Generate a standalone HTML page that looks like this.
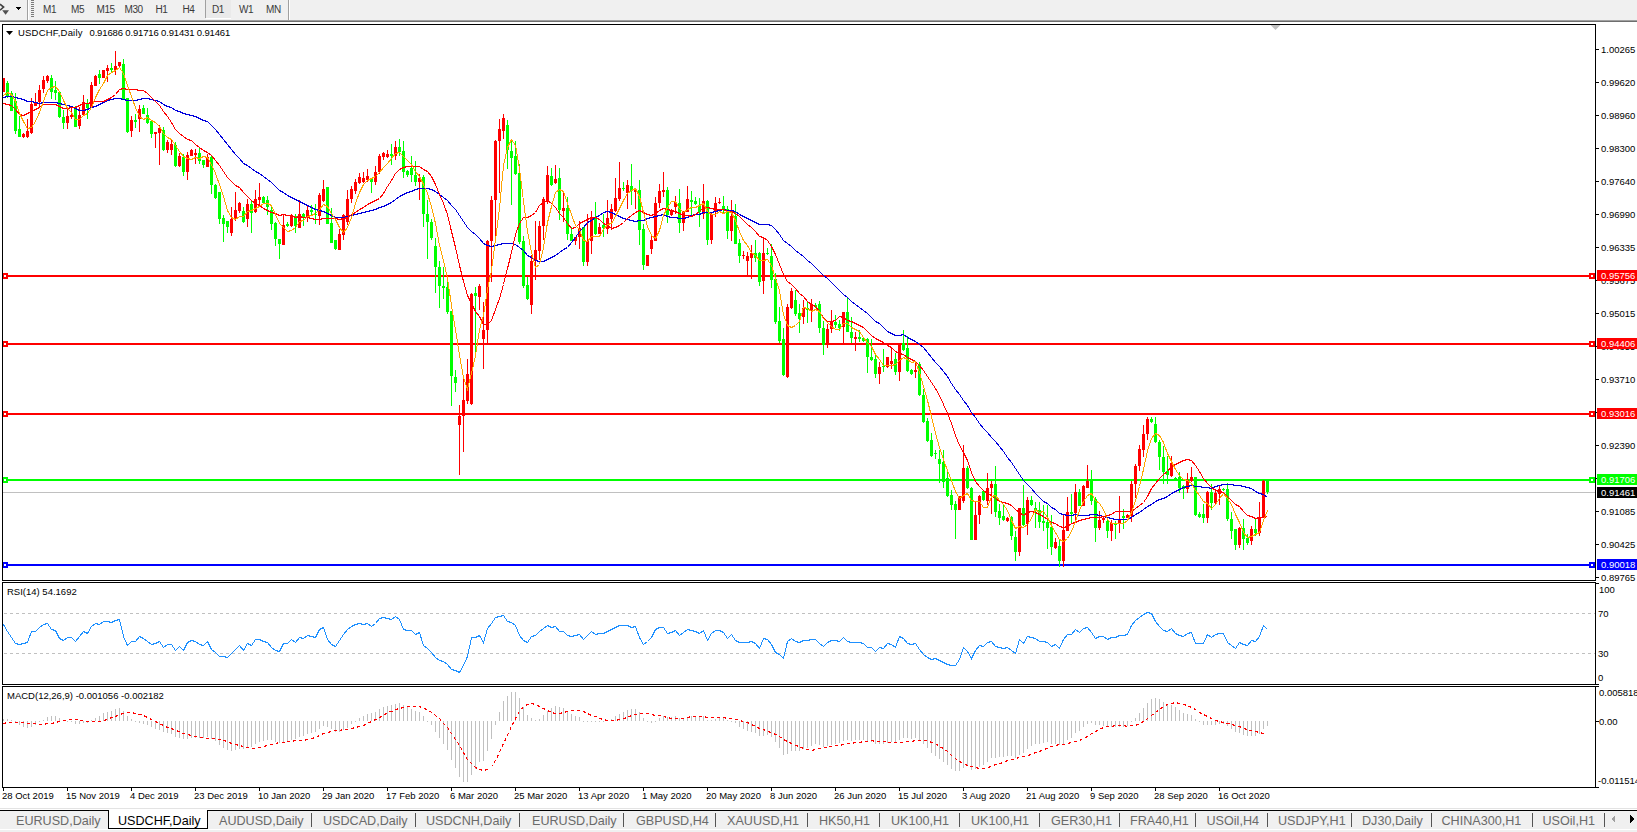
<!DOCTYPE html>
<html><head><meta charset="utf-8"><style>
html,body{margin:0;padding:0;}
body{width:1637px;height:832px;position:relative;overflow:hidden;background:#fff;font-family:"Liberation Sans",sans-serif;}
.t{position:absolute;white-space:nowrap;line-height:11px;}
.lb{position:absolute;left:1597px;width:36px;height:11px;padding-left:4px;font-size:9.5px;line-height:11px;white-space:nowrap;}
.tt{position:absolute;top:3.5px;font-size:10px;line-height:11px;color:#3a3a3a;letter-spacing:-0.4px;white-space:nowrap;}
.tab{position:absolute;top:813.5px;font-size:12.6px;line-height:14px;white-space:nowrap;}
#tb{position:absolute;left:0;top:0;width:1637px;height:20px;background:#f0f0f0;border-bottom:1px solid #a0a0a0;}
#tb2{position:absolute;left:0;top:21px;width:1637px;height:1px;background:#6e6e6e;}
#tabs{position:absolute;left:0;top:808px;width:1637px;height:24px;background:#f0f0f0;}
</style></head><body>
<div id="tb"></div><div id="tb2"></div>
<svg width="300" height="22" style="position:absolute;left:0;top:0" shape-rendering="crispEdges"><path d="M0,4.2 L3.6,7 L0,10.2" fill="none" stroke="#404040" stroke-width="1.6" shape-rendering="auto"/><path d="M2.2,10.2 L9,10.2 L5.6,14.8 Z" fill="#505050" shape-rendering="auto"/><path d="M16,7 L21,7 L18.5,10 Z" fill="#000"/><rect x="27" y="0" width="1" height="20" fill="#a0a0a0"/><rect x="28" y="0" width="1" height="20" fill="#fff"/><rect x="31" y="0" width="3" height="1" fill="#7a7a7a"/><rect x="31" y="2" width="3" height="1" fill="#7a7a7a"/><rect x="31" y="4" width="3" height="1" fill="#7a7a7a"/><rect x="31" y="6" width="3" height="1" fill="#7a7a7a"/><rect x="31" y="8" width="3" height="1" fill="#7a7a7a"/><rect x="31" y="10" width="3" height="1" fill="#7a7a7a"/><rect x="31" y="12" width="3" height="1" fill="#7a7a7a"/><rect x="31" y="14" width="3" height="1" fill="#7a7a7a"/><rect x="31" y="16" width="3" height="1" fill="#7a7a7a"/><rect x="205" y="0" width="1" height="18" fill="#a0a0a0"/><rect x="206" y="0" width="25" height="18" fill="#eaeaea"/><rect x="206" y="18" width="25" height="1" fill="#fff"/><rect x="288" y="0" width="1" height="20" fill="#a0a0a0"/><rect x="289" y="0" width="1" height="20" fill="#fff"/></svg><div class="tt" style="left:43px">M1</div><div class="tt" style="left:71px">M5</div><div class="tt" style="left:96.5px">M15</div><div class="tt" style="left:124.5px">M30</div><div class="tt" style="left:155.5px">H1</div><div class="tt" style="left:182.5px">H4</div><div class="tt" style="left:212px">D1</div><div class="tt" style="left:239px">W1</div><div class="tt" style="left:266px">MN</div>
<svg width="1637" height="832" viewBox="0 0 1637 832" style="position:absolute;left:0;top:0"><defs><clipPath id="cm"><rect x="3" y="25" width="1592" height="555"/></clipPath><clipPath id="cr"><rect x="3" y="583" width="1592" height="101"/></clipPath><clipPath id="cmacd"><rect x="3" y="687" width="1592" height="100"/></clipPath></defs><g shape-rendering="crispEdges"><rect x="3" y="492" width="1592" height="1" fill="#c0c0c0"/><rect x="3" y="275" width="1592" height="2" fill="#ff0000"/><rect x="3" y="343" width="1592" height="2" fill="#ff0000"/><rect x="3" y="413" width="1592" height="2" fill="#ff0000"/><rect x="3" y="479" width="1592" height="2" fill="#00ff00"/><rect x="3" y="564" width="1592" height="2" fill="#0000ff"/></g><g clip-path="url(#cm)" shape-rendering="crispEdges"><rect x="3" y="78" width="1" height="14" fill="#ff0000"/><rect x="2" y="78" width="3" height="14" fill="#ff0000"/><rect x="7" y="81" width="1" height="17" fill="#00ff00"/><rect x="6" y="83" width="3" height="13" fill="#00ff00"/><rect x="11" y="91" width="1" height="20" fill="#00ff00"/><rect x="10" y="93" width="3" height="18" fill="#00ff00"/><rect x="15" y="93" width="1" height="41" fill="#00ff00"/><rect x="14" y="101" width="3" height="30" fill="#00ff00"/><rect x="19" y="116" width="1" height="21" fill="#00ff00"/><rect x="18" y="129" width="3" height="8" fill="#00ff00"/><rect x="23" y="133" width="1" height="5" fill="#ff0000"/><rect x="22" y="134" width="3" height="3" fill="#ff0000"/><rect x="27" y="119" width="1" height="19" fill="#ff0000"/><rect x="26" y="131" width="3" height="6" fill="#ff0000"/><rect x="31" y="98" width="1" height="36" fill="#ff0000"/><rect x="30" y="104" width="3" height="29" fill="#ff0000"/><rect x="35" y="93" width="1" height="13" fill="#ff0000"/><rect x="34" y="102" width="3" height="4" fill="#ff0000"/><rect x="39" y="85" width="1" height="23" fill="#ff0000"/><rect x="38" y="90" width="3" height="12" fill="#ff0000"/><rect x="43" y="76" width="1" height="17" fill="#ff0000"/><rect x="42" y="80" width="3" height="9" fill="#ff0000"/><rect x="47" y="75" width="1" height="8" fill="#ff0000"/><rect x="46" y="76" width="3" height="5" fill="#ff0000"/><rect x="51" y="75" width="1" height="24" fill="#00ff00"/><rect x="50" y="78" width="3" height="14" fill="#00ff00"/><rect x="55" y="81" width="1" height="19" fill="#00ff00"/><rect x="54" y="90" width="3" height="3" fill="#00ff00"/><rect x="59" y="92" width="1" height="26" fill="#00ff00"/><rect x="58" y="92" width="3" height="25" fill="#00ff00"/><rect x="63" y="110" width="1" height="19" fill="#00ff00"/><rect x="62" y="117" width="3" height="6" fill="#00ff00"/><rect x="67" y="109" width="1" height="20" fill="#ff0000"/><rect x="66" y="116" width="3" height="7" fill="#ff0000"/><rect x="71" y="108" width="1" height="11" fill="#ff0000"/><rect x="70" y="115" width="3" height="2" fill="#ff0000"/><rect x="75" y="106" width="1" height="21" fill="#00ff00"/><rect x="74" y="109" width="3" height="18" fill="#00ff00"/><rect x="79" y="107" width="1" height="22" fill="#ff0000"/><rect x="78" y="115" width="3" height="11" fill="#ff0000"/><rect x="83" y="95" width="1" height="21" fill="#ff0000"/><rect x="82" y="102" width="3" height="13" fill="#ff0000"/><rect x="87" y="99" width="1" height="20" fill="#00ff00"/><rect x="86" y="103" width="3" height="5" fill="#00ff00"/><rect x="91" y="82" width="1" height="26" fill="#ff0000"/><rect x="90" y="85" width="3" height="23" fill="#ff0000"/><rect x="95" y="75" width="1" height="11" fill="#ff0000"/><rect x="94" y="76" width="3" height="10" fill="#ff0000"/><rect x="99" y="70" width="1" height="14" fill="#00ff00"/><rect x="98" y="74" width="3" height="4" fill="#00ff00"/><rect x="103" y="70" width="1" height="8" fill="#ff0000"/><rect x="102" y="70" width="3" height="8" fill="#ff0000"/><rect x="107" y="65" width="1" height="17" fill="#ff0000"/><rect x="106" y="68" width="3" height="3" fill="#ff0000"/><rect x="111" y="63" width="1" height="10" fill="#00ff00"/><rect x="110" y="68" width="3" height="2" fill="#00ff00"/><rect x="115" y="51" width="1" height="24" fill="#ff0000"/><rect x="114" y="66" width="3" height="4" fill="#ff0000"/><rect x="119" y="62" width="1" height="5" fill="#ff0000"/><rect x="118" y="62" width="3" height="4" fill="#ff0000"/><rect x="123" y="59" width="1" height="41" fill="#00ff00"/><rect x="122" y="64" width="3" height="36" fill="#00ff00"/><rect x="127" y="98" width="1" height="35" fill="#00ff00"/><rect x="126" y="98" width="3" height="34" fill="#00ff00"/><rect x="131" y="116" width="1" height="21" fill="#ff0000"/><rect x="130" y="120" width="3" height="11" fill="#ff0000"/><rect x="135" y="114" width="1" height="14" fill="#00ff00"/><rect x="134" y="120" width="3" height="2" fill="#00ff00"/><rect x="139" y="105" width="1" height="27" fill="#ff0000"/><rect x="138" y="109" width="3" height="10" fill="#ff0000"/><rect x="143" y="105" width="1" height="9" fill="#00ff00"/><rect x="142" y="108" width="3" height="6" fill="#00ff00"/><rect x="147" y="108" width="1" height="16" fill="#00ff00"/><rect x="146" y="115" width="3" height="8" fill="#00ff00"/><rect x="151" y="120" width="1" height="18" fill="#00ff00"/><rect x="150" y="121" width="3" height="13" fill="#00ff00"/><rect x="155" y="132" width="1" height="16" fill="#ff0000"/><rect x="154" y="132" width="3" height="2" fill="#ff0000"/><rect x="159" y="125" width="1" height="40" fill="#ff0000"/><rect x="158" y="128" width="3" height="5" fill="#ff0000"/><rect x="163" y="127" width="1" height="24" fill="#00ff00"/><rect x="162" y="130" width="3" height="20" fill="#00ff00"/><rect x="167" y="140" width="1" height="13" fill="#ff0000"/><rect x="166" y="142" width="3" height="8" fill="#ff0000"/><rect x="171" y="140" width="1" height="15" fill="#ff0000"/><rect x="170" y="144" width="3" height="6" fill="#ff0000"/><rect x="175" y="142" width="1" height="25" fill="#00ff00"/><rect x="174" y="145" width="3" height="21" fill="#00ff00"/><rect x="179" y="153" width="1" height="14" fill="#ff0000"/><rect x="178" y="156" width="3" height="10" fill="#ff0000"/><rect x="183" y="154" width="1" height="22" fill="#00ff00"/><rect x="182" y="157" width="3" height="15" fill="#00ff00"/><rect x="187" y="152" width="1" height="28" fill="#ff0000"/><rect x="186" y="155" width="3" height="17" fill="#ff0000"/><rect x="191" y="149" width="1" height="7" fill="#ff0000"/><rect x="190" y="150" width="3" height="6" fill="#ff0000"/><rect x="195" y="149" width="1" height="15" fill="#ff0000"/><rect x="194" y="153" width="3" height="2" fill="#ff0000"/><rect x="199" y="148" width="1" height="16" fill="#00ff00"/><rect x="198" y="153" width="3" height="8" fill="#00ff00"/><rect x="203" y="160" width="1" height="8" fill="#00ff00"/><rect x="202" y="160" width="3" height="5" fill="#00ff00"/><rect x="207" y="154" width="1" height="13" fill="#ff0000"/><rect x="206" y="157" width="3" height="10" fill="#ff0000"/><rect x="211" y="155" width="1" height="39" fill="#00ff00"/><rect x="210" y="157" width="3" height="28" fill="#00ff00"/><rect x="215" y="184" width="1" height="15" fill="#00ff00"/><rect x="214" y="185" width="3" height="13" fill="#00ff00"/><rect x="219" y="192" width="1" height="32" fill="#00ff00"/><rect x="218" y="192" width="3" height="27" fill="#00ff00"/><rect x="223" y="215" width="1" height="27" fill="#00ff00"/><rect x="222" y="218" width="3" height="6" fill="#00ff00"/><rect x="227" y="221" width="1" height="12" fill="#00ff00"/><rect x="226" y="221" width="3" height="6" fill="#00ff00"/><rect x="231" y="207" width="1" height="29" fill="#ff0000"/><rect x="230" y="219" width="3" height="14" fill="#ff0000"/><rect x="235" y="192" width="1" height="29" fill="#ff0000"/><rect x="234" y="210" width="3" height="8" fill="#ff0000"/><rect x="239" y="202" width="1" height="11" fill="#ff0000"/><rect x="238" y="203" width="3" height="8" fill="#ff0000"/><rect x="243" y="207" width="1" height="16" fill="#00ff00"/><rect x="242" y="211" width="3" height="11" fill="#00ff00"/><rect x="247" y="199" width="1" height="28" fill="#ff0000"/><rect x="246" y="204" width="3" height="15" fill="#ff0000"/><rect x="251" y="201" width="1" height="32" fill="#00ff00"/><rect x="250" y="204" width="3" height="9" fill="#00ff00"/><rect x="255" y="190" width="1" height="23" fill="#ff0000"/><rect x="254" y="199" width="3" height="13" fill="#ff0000"/><rect x="259" y="183" width="1" height="22" fill="#ff0000"/><rect x="258" y="197" width="3" height="3" fill="#ff0000"/><rect x="263" y="196" width="1" height="7" fill="#00ff00"/><rect x="262" y="197" width="3" height="6" fill="#00ff00"/><rect x="267" y="196" width="1" height="19" fill="#00ff00"/><rect x="266" y="200" width="3" height="7" fill="#00ff00"/><rect x="271" y="207" width="1" height="23" fill="#00ff00"/><rect x="270" y="210" width="3" height="14" fill="#00ff00"/><rect x="275" y="222" width="1" height="24" fill="#00ff00"/><rect x="274" y="223" width="3" height="16" fill="#00ff00"/><rect x="279" y="239" width="1" height="20" fill="#00ff00"/><rect x="278" y="239" width="3" height="5" fill="#00ff00"/><rect x="283" y="215" width="1" height="30" fill="#ff0000"/><rect x="282" y="225" width="3" height="20" fill="#ff0000"/><rect x="287" y="222" width="1" height="5" fill="#00ff00"/><rect x="286" y="224" width="3" height="2" fill="#00ff00"/><rect x="291" y="214" width="1" height="13" fill="#ff0000"/><rect x="290" y="216" width="3" height="10" fill="#ff0000"/><rect x="295" y="214" width="1" height="19" fill="#00ff00"/><rect x="294" y="216" width="3" height="10" fill="#00ff00"/><rect x="299" y="200" width="1" height="28" fill="#ff0000"/><rect x="298" y="214" width="3" height="14" fill="#ff0000"/><rect x="303" y="213" width="1" height="13" fill="#00ff00"/><rect x="302" y="214" width="3" height="4" fill="#00ff00"/><rect x="307" y="206" width="1" height="16" fill="#ff0000"/><rect x="306" y="210" width="3" height="8" fill="#ff0000"/><rect x="311" y="205" width="1" height="10" fill="#00ff00"/><rect x="310" y="210" width="3" height="2" fill="#00ff00"/><rect x="315" y="204" width="1" height="20" fill="#00ff00"/><rect x="314" y="214" width="3" height="1" fill="#00ff00"/><rect x="319" y="193" width="1" height="32" fill="#ff0000"/><rect x="318" y="195" width="3" height="21" fill="#ff0000"/><rect x="323" y="180" width="1" height="22" fill="#ff0000"/><rect x="322" y="189" width="3" height="12" fill="#ff0000"/><rect x="327" y="187" width="1" height="37" fill="#00ff00"/><rect x="326" y="187" width="3" height="37" fill="#00ff00"/><rect x="331" y="208" width="1" height="35" fill="#00ff00"/><rect x="330" y="223" width="3" height="20" fill="#00ff00"/><rect x="335" y="240" width="1" height="10" fill="#00ff00"/><rect x="334" y="240" width="3" height="9" fill="#00ff00"/><rect x="339" y="229" width="1" height="21" fill="#ff0000"/><rect x="338" y="234" width="3" height="16" fill="#ff0000"/><rect x="343" y="214" width="1" height="26" fill="#ff0000"/><rect x="342" y="215" width="3" height="20" fill="#ff0000"/><rect x="347" y="190" width="1" height="35" fill="#ff0000"/><rect x="346" y="199" width="3" height="23" fill="#ff0000"/><rect x="351" y="186" width="1" height="17" fill="#ff0000"/><rect x="350" y="189" width="3" height="10" fill="#ff0000"/><rect x="355" y="179" width="1" height="15" fill="#ff0000"/><rect x="354" y="182" width="3" height="9" fill="#ff0000"/><rect x="359" y="173" width="1" height="11" fill="#ff0000"/><rect x="358" y="177" width="3" height="6" fill="#ff0000"/><rect x="363" y="172" width="1" height="11" fill="#ff0000"/><rect x="362" y="178" width="3" height="4" fill="#ff0000"/><rect x="367" y="169" width="1" height="13" fill="#ff0000"/><rect x="366" y="176" width="3" height="4" fill="#ff0000"/><rect x="371" y="178" width="1" height="15" fill="#00ff00"/><rect x="370" y="178" width="3" height="4" fill="#00ff00"/><rect x="375" y="166" width="1" height="19" fill="#ff0000"/><rect x="374" y="172" width="3" height="10" fill="#ff0000"/><rect x="379" y="154" width="1" height="20" fill="#ff0000"/><rect x="378" y="156" width="3" height="16" fill="#ff0000"/><rect x="383" y="152" width="1" height="8" fill="#ff0000"/><rect x="382" y="153" width="3" height="4" fill="#ff0000"/><rect x="387" y="150" width="1" height="8" fill="#ff0000"/><rect x="386" y="154" width="3" height="3" fill="#ff0000"/><rect x="391" y="144" width="1" height="21" fill="#00ff00"/><rect x="390" y="154" width="3" height="2" fill="#00ff00"/><rect x="395" y="141" width="1" height="19" fill="#ff0000"/><rect x="394" y="147" width="3" height="9" fill="#ff0000"/><rect x="399" y="139" width="1" height="17" fill="#00ff00"/><rect x="398" y="147" width="3" height="5" fill="#00ff00"/><rect x="403" y="141" width="1" height="37" fill="#00ff00"/><rect x="402" y="151" width="3" height="21" fill="#00ff00"/><rect x="407" y="170" width="1" height="7" fill="#00ff00"/><rect x="406" y="171" width="3" height="4" fill="#00ff00"/><rect x="411" y="156" width="1" height="26" fill="#00ff00"/><rect x="410" y="168" width="3" height="7" fill="#00ff00"/><rect x="415" y="161" width="1" height="25" fill="#00ff00"/><rect x="414" y="175" width="3" height="7" fill="#00ff00"/><rect x="419" y="174" width="1" height="26" fill="#ff0000"/><rect x="418" y="178" width="3" height="4" fill="#ff0000"/><rect x="423" y="175" width="1" height="52" fill="#00ff00"/><rect x="422" y="177" width="3" height="37" fill="#00ff00"/><rect x="427" y="200" width="1" height="59" fill="#00ff00"/><rect x="426" y="214" width="3" height="8" fill="#00ff00"/><rect x="431" y="219" width="1" height="21" fill="#00ff00"/><rect x="430" y="222" width="3" height="16" fill="#00ff00"/><rect x="435" y="238" width="1" height="55" fill="#00ff00"/><rect x="434" y="246" width="3" height="21" fill="#00ff00"/><rect x="439" y="261" width="1" height="47" fill="#00ff00"/><rect x="438" y="267" width="3" height="19" fill="#00ff00"/><rect x="443" y="267" width="1" height="32" fill="#00ff00"/><rect x="442" y="286" width="3" height="2" fill="#00ff00"/><rect x="447" y="280" width="1" height="34" fill="#00ff00"/><rect x="446" y="287" width="3" height="25" fill="#00ff00"/><rect x="451" y="311" width="1" height="95" fill="#00ff00"/><rect x="450" y="311" width="3" height="65" fill="#00ff00"/><rect x="455" y="370" width="1" height="22" fill="#00ff00"/><rect x="454" y="377" width="3" height="6" fill="#00ff00"/><rect x="459" y="405" width="1" height="70" fill="#ff0000"/><rect x="458" y="416" width="3" height="9" fill="#ff0000"/><rect x="463" y="379" width="1" height="73" fill="#ff0000"/><rect x="462" y="400" width="3" height="16" fill="#ff0000"/><rect x="467" y="359" width="1" height="45" fill="#ff0000"/><rect x="466" y="374" width="3" height="27" fill="#ff0000"/><rect x="471" y="293" width="1" height="112" fill="#ff0000"/><rect x="470" y="294" width="3" height="110" fill="#ff0000"/><rect x="475" y="287" width="1" height="66" fill="#00ff00"/><rect x="474" y="293" width="3" height="3" fill="#00ff00"/><rect x="479" y="284" width="1" height="26" fill="#ff0000"/><rect x="478" y="286" width="3" height="11" fill="#ff0000"/><rect x="483" y="302" width="1" height="67" fill="#ff0000"/><rect x="482" y="330" width="3" height="9" fill="#ff0000"/><rect x="487" y="240" width="1" height="103" fill="#ff0000"/><rect x="486" y="241" width="3" height="89" fill="#ff0000"/><rect x="491" y="196" width="1" height="86" fill="#ff0000"/><rect x="490" y="200" width="3" height="41" fill="#ff0000"/><rect x="495" y="140" width="1" height="96" fill="#ff0000"/><rect x="494" y="141" width="3" height="59" fill="#ff0000"/><rect x="499" y="119" width="1" height="74" fill="#ff0000"/><rect x="498" y="129" width="3" height="12" fill="#ff0000"/><rect x="503" y="114" width="1" height="25" fill="#ff0000"/><rect x="502" y="118" width="3" height="13" fill="#ff0000"/><rect x="507" y="120" width="1" height="49" fill="#00ff00"/><rect x="506" y="125" width="3" height="25" fill="#00ff00"/><rect x="511" y="139" width="1" height="66" fill="#00ff00"/><rect x="510" y="151" width="3" height="7" fill="#00ff00"/><rect x="515" y="141" width="1" height="34" fill="#00ff00"/><rect x="514" y="156" width="3" height="18" fill="#00ff00"/><rect x="519" y="164" width="1" height="80" fill="#00ff00"/><rect x="518" y="173" width="3" height="69" fill="#00ff00"/><rect x="523" y="236" width="1" height="52" fill="#00ff00"/><rect x="522" y="241" width="3" height="45" fill="#00ff00"/><rect x="527" y="277" width="1" height="23" fill="#00ff00"/><rect x="526" y="285" width="3" height="14" fill="#00ff00"/><rect x="531" y="255" width="1" height="59" fill="#ff0000"/><rect x="530" y="261" width="3" height="44" fill="#ff0000"/><rect x="535" y="221" width="1" height="59" fill="#ff0000"/><rect x="534" y="250" width="3" height="11" fill="#ff0000"/><rect x="539" y="221" width="1" height="39" fill="#ff0000"/><rect x="538" y="226" width="3" height="25" fill="#ff0000"/><rect x="543" y="197" width="1" height="43" fill="#ff0000"/><rect x="542" y="199" width="3" height="27" fill="#ff0000"/><rect x="547" y="166" width="1" height="38" fill="#ff0000"/><rect x="546" y="175" width="3" height="26" fill="#ff0000"/><rect x="551" y="168" width="1" height="18" fill="#00ff00"/><rect x="550" y="176" width="3" height="9" fill="#00ff00"/><rect x="555" y="165" width="1" height="19" fill="#ff0000"/><rect x="554" y="179" width="3" height="4" fill="#ff0000"/><rect x="559" y="168" width="1" height="52" fill="#00ff00"/><rect x="558" y="178" width="3" height="32" fill="#00ff00"/><rect x="563" y="193" width="1" height="29" fill="#ff0000"/><rect x="562" y="208" width="3" height="3" fill="#ff0000"/><rect x="567" y="197" width="1" height="43" fill="#00ff00"/><rect x="566" y="208" width="3" height="26" fill="#00ff00"/><rect x="571" y="227" width="1" height="14" fill="#00ff00"/><rect x="570" y="234" width="3" height="7" fill="#00ff00"/><rect x="575" y="237" width="1" height="8" fill="#ff0000"/><rect x="574" y="237" width="3" height="4" fill="#ff0000"/><rect x="579" y="221" width="1" height="28" fill="#ff0000"/><rect x="578" y="228" width="3" height="9" fill="#ff0000"/><rect x="583" y="227" width="1" height="39" fill="#00ff00"/><rect x="582" y="227" width="3" height="35" fill="#00ff00"/><rect x="587" y="214" width="1" height="52" fill="#ff0000"/><rect x="586" y="241" width="3" height="21" fill="#ff0000"/><rect x="591" y="211" width="1" height="43" fill="#ff0000"/><rect x="590" y="217" width="3" height="24" fill="#ff0000"/><rect x="595" y="202" width="1" height="33" fill="#00ff00"/><rect x="594" y="219" width="3" height="15" fill="#00ff00"/><rect x="599" y="223" width="1" height="11" fill="#ff0000"/><rect x="598" y="227" width="3" height="7" fill="#ff0000"/><rect x="603" y="214" width="1" height="23" fill="#00ff00"/><rect x="602" y="225" width="3" height="3" fill="#00ff00"/><rect x="607" y="200" width="1" height="34" fill="#ff0000"/><rect x="606" y="218" width="3" height="11" fill="#ff0000"/><rect x="611" y="204" width="1" height="26" fill="#ff0000"/><rect x="610" y="209" width="3" height="10" fill="#ff0000"/><rect x="615" y="178" width="1" height="34" fill="#ff0000"/><rect x="614" y="198" width="3" height="13" fill="#ff0000"/><rect x="619" y="162" width="1" height="39" fill="#ff0000"/><rect x="618" y="188" width="3" height="11" fill="#ff0000"/><rect x="623" y="182" width="1" height="9" fill="#00ff00"/><rect x="622" y="188" width="3" height="1" fill="#00ff00"/><rect x="627" y="180" width="1" height="29" fill="#ff0000"/><rect x="626" y="185" width="3" height="8" fill="#ff0000"/><rect x="631" y="164" width="1" height="41" fill="#00ff00"/><rect x="630" y="186" width="3" height="5" fill="#00ff00"/><rect x="635" y="188" width="1" height="21" fill="#ff0000"/><rect x="634" y="190" width="3" height="2" fill="#ff0000"/><rect x="639" y="180" width="1" height="65" fill="#00ff00"/><rect x="638" y="190" width="3" height="40" fill="#00ff00"/><rect x="643" y="224" width="1" height="46" fill="#00ff00"/><rect x="642" y="229" width="3" height="36" fill="#00ff00"/><rect x="647" y="255" width="1" height="11" fill="#ff0000"/><rect x="646" y="255" width="3" height="11" fill="#ff0000"/><rect x="651" y="236" width="1" height="18" fill="#ff0000"/><rect x="650" y="240" width="3" height="9" fill="#ff0000"/><rect x="655" y="197" width="1" height="44" fill="#ff0000"/><rect x="654" y="203" width="3" height="38" fill="#ff0000"/><rect x="659" y="184" width="1" height="24" fill="#ff0000"/><rect x="658" y="191" width="3" height="12" fill="#ff0000"/><rect x="663" y="172" width="1" height="25" fill="#ff0000"/><rect x="662" y="190" width="3" height="2" fill="#ff0000"/><rect x="667" y="187" width="1" height="36" fill="#00ff00"/><rect x="666" y="190" width="3" height="25" fill="#00ff00"/><rect x="671" y="209" width="1" height="7" fill="#ff0000"/><rect x="670" y="210" width="3" height="5" fill="#ff0000"/><rect x="675" y="196" width="1" height="18" fill="#ff0000"/><rect x="674" y="202" width="3" height="5" fill="#ff0000"/><rect x="679" y="189" width="1" height="44" fill="#00ff00"/><rect x="678" y="203" width="3" height="20" fill="#00ff00"/><rect x="683" y="211" width="1" height="20" fill="#ff0000"/><rect x="682" y="212" width="3" height="11" fill="#ff0000"/><rect x="687" y="186" width="1" height="26" fill="#ff0000"/><rect x="686" y="199" width="3" height="13" fill="#ff0000"/><rect x="691" y="191" width="1" height="25" fill="#00ff00"/><rect x="690" y="200" width="3" height="2" fill="#00ff00"/><rect x="695" y="197" width="1" height="8" fill="#00ff00"/><rect x="694" y="201" width="3" height="3" fill="#00ff00"/><rect x="699" y="198" width="1" height="29" fill="#00ff00"/><rect x="698" y="206" width="3" height="6" fill="#00ff00"/><rect x="703" y="184" width="1" height="35" fill="#ff0000"/><rect x="702" y="201" width="3" height="13" fill="#ff0000"/><rect x="707" y="200" width="1" height="45" fill="#00ff00"/><rect x="706" y="201" width="3" height="39" fill="#00ff00"/><rect x="711" y="212" width="1" height="32" fill="#ff0000"/><rect x="710" y="214" width="3" height="26" fill="#ff0000"/><rect x="715" y="197" width="1" height="20" fill="#ff0000"/><rect x="714" y="203" width="3" height="9" fill="#ff0000"/><rect x="719" y="198" width="1" height="6" fill="#ff0000"/><rect x="718" y="202" width="3" height="1" fill="#ff0000"/><rect x="723" y="196" width="1" height="17" fill="#00ff00"/><rect x="722" y="206" width="3" height="3" fill="#00ff00"/><rect x="727" y="206" width="1" height="33" fill="#00ff00"/><rect x="726" y="209" width="3" height="22" fill="#00ff00"/><rect x="731" y="200" width="1" height="41" fill="#ff0000"/><rect x="730" y="216" width="3" height="15" fill="#ff0000"/><rect x="735" y="204" width="1" height="40" fill="#00ff00"/><rect x="734" y="216" width="3" height="28" fill="#00ff00"/><rect x="739" y="239" width="1" height="24" fill="#00ff00"/><rect x="738" y="243" width="3" height="13" fill="#00ff00"/><rect x="743" y="251" width="1" height="8" fill="#ff0000"/><rect x="742" y="255" width="3" height="1" fill="#ff0000"/><rect x="747" y="252" width="1" height="25" fill="#ff0000"/><rect x="746" y="256" width="3" height="5" fill="#ff0000"/><rect x="751" y="245" width="1" height="34" fill="#ff0000"/><rect x="750" y="253" width="3" height="5" fill="#ff0000"/><rect x="755" y="240" width="1" height="22" fill="#00ff00"/><rect x="754" y="253" width="3" height="5" fill="#00ff00"/><rect x="759" y="252" width="1" height="34" fill="#00ff00"/><rect x="758" y="253" width="3" height="29" fill="#00ff00"/><rect x="763" y="238" width="1" height="56" fill="#ff0000"/><rect x="762" y="253" width="3" height="28" fill="#ff0000"/><rect x="767" y="248" width="1" height="7" fill="#00ff00"/><rect x="766" y="253" width="3" height="1" fill="#00ff00"/><rect x="771" y="244" width="1" height="44" fill="#00ff00"/><rect x="770" y="256" width="3" height="24" fill="#00ff00"/><rect x="775" y="273" width="1" height="51" fill="#00ff00"/><rect x="774" y="279" width="3" height="43" fill="#00ff00"/><rect x="779" y="307" width="1" height="36" fill="#00ff00"/><rect x="778" y="321" width="3" height="20" fill="#00ff00"/><rect x="783" y="328" width="1" height="48" fill="#00ff00"/><rect x="782" y="339" width="3" height="36" fill="#00ff00"/><rect x="787" y="304" width="1" height="74" fill="#ff0000"/><rect x="786" y="307" width="3" height="70" fill="#ff0000"/><rect x="791" y="288" width="1" height="21" fill="#ff0000"/><rect x="790" y="291" width="3" height="17" fill="#ff0000"/><rect x="795" y="290" width="1" height="26" fill="#00ff00"/><rect x="794" y="300" width="3" height="14" fill="#00ff00"/><rect x="799" y="304" width="1" height="29" fill="#00ff00"/><rect x="798" y="313" width="3" height="6" fill="#00ff00"/><rect x="803" y="300" width="1" height="24" fill="#ff0000"/><rect x="802" y="308" width="3" height="9" fill="#ff0000"/><rect x="807" y="302" width="1" height="21" fill="#00ff00"/><rect x="806" y="308" width="3" height="2" fill="#00ff00"/><rect x="811" y="299" width="1" height="23" fill="#ff0000"/><rect x="810" y="304" width="3" height="6" fill="#ff0000"/><rect x="815" y="303" width="1" height="5" fill="#00ff00"/><rect x="814" y="305" width="3" height="2" fill="#00ff00"/><rect x="819" y="301" width="1" height="32" fill="#00ff00"/><rect x="818" y="304" width="3" height="24" fill="#00ff00"/><rect x="823" y="321" width="1" height="34" fill="#00ff00"/><rect x="822" y="328" width="3" height="17" fill="#00ff00"/><rect x="827" y="324" width="1" height="24" fill="#ff0000"/><rect x="826" y="329" width="3" height="16" fill="#ff0000"/><rect x="831" y="310" width="1" height="23" fill="#ff0000"/><rect x="830" y="321" width="3" height="8" fill="#ff0000"/><rect x="835" y="315" width="1" height="13" fill="#00ff00"/><rect x="834" y="322" width="3" height="3" fill="#00ff00"/><rect x="839" y="320" width="1" height="11" fill="#00ff00"/><rect x="838" y="324" width="3" height="4" fill="#00ff00"/><rect x="843" y="312" width="1" height="31" fill="#ff0000"/><rect x="842" y="312" width="3" height="15" fill="#ff0000"/><rect x="847" y="298" width="1" height="34" fill="#00ff00"/><rect x="846" y="312" width="3" height="20" fill="#00ff00"/><rect x="851" y="317" width="1" height="26" fill="#00ff00"/><rect x="850" y="332" width="3" height="6" fill="#00ff00"/><rect x="855" y="332" width="1" height="19" fill="#ff0000"/><rect x="854" y="337" width="3" height="2" fill="#ff0000"/><rect x="859" y="330" width="1" height="12" fill="#00ff00"/><rect x="858" y="337" width="3" height="2" fill="#00ff00"/><rect x="863" y="337" width="1" height="5" fill="#00ff00"/><rect x="862" y="338" width="3" height="3" fill="#00ff00"/><rect x="867" y="338" width="1" height="35" fill="#00ff00"/><rect x="866" y="339" width="3" height="18" fill="#00ff00"/><rect x="871" y="339" width="1" height="22" fill="#00ff00"/><rect x="870" y="357" width="3" height="3" fill="#00ff00"/><rect x="875" y="353" width="1" height="25" fill="#00ff00"/><rect x="874" y="359" width="3" height="15" fill="#00ff00"/><rect x="879" y="362" width="1" height="22" fill="#ff0000"/><rect x="878" y="367" width="3" height="7" fill="#ff0000"/><rect x="883" y="349" width="1" height="23" fill="#00ff00"/><rect x="882" y="366" width="3" height="1" fill="#00ff00"/><rect x="887" y="357" width="1" height="11" fill="#ff0000"/><rect x="886" y="357" width="3" height="10" fill="#ff0000"/><rect x="891" y="348" width="1" height="21" fill="#ff0000"/><rect x="890" y="361" width="3" height="3" fill="#ff0000"/><rect x="895" y="353" width="1" height="22" fill="#00ff00"/><rect x="894" y="359" width="3" height="13" fill="#00ff00"/><rect x="899" y="344" width="1" height="37" fill="#ff0000"/><rect x="898" y="345" width="3" height="27" fill="#ff0000"/><rect x="903" y="330" width="1" height="21" fill="#00ff00"/><rect x="902" y="343" width="3" height="7" fill="#00ff00"/><rect x="907" y="336" width="1" height="36" fill="#00ff00"/><rect x="906" y="348" width="3" height="23" fill="#00ff00"/><rect x="911" y="369" width="1" height="6" fill="#00ff00"/><rect x="910" y="370" width="3" height="4" fill="#00ff00"/><rect x="915" y="361" width="1" height="17" fill="#ff0000"/><rect x="914" y="370" width="3" height="2" fill="#ff0000"/><rect x="919" y="362" width="1" height="34" fill="#00ff00"/><rect x="918" y="364" width="3" height="31" fill="#00ff00"/><rect x="923" y="389" width="1" height="34" fill="#00ff00"/><rect x="922" y="395" width="3" height="27" fill="#00ff00"/><rect x="927" y="418" width="1" height="24" fill="#00ff00"/><rect x="926" y="421" width="3" height="20" fill="#00ff00"/><rect x="931" y="433" width="1" height="24" fill="#00ff00"/><rect x="930" y="440" width="3" height="16" fill="#00ff00"/><rect x="935" y="450" width="1" height="9" fill="#00ff00"/><rect x="934" y="453" width="3" height="1" fill="#00ff00"/><rect x="939" y="450" width="1" height="33" fill="#00ff00"/><rect x="938" y="459" width="3" height="5" fill="#00ff00"/><rect x="943" y="450" width="1" height="38" fill="#00ff00"/><rect x="942" y="462" width="3" height="20" fill="#00ff00"/><rect x="947" y="472" width="1" height="25" fill="#00ff00"/><rect x="946" y="478" width="3" height="18" fill="#00ff00"/><rect x="951" y="490" width="1" height="20" fill="#00ff00"/><rect x="950" y="495" width="3" height="10" fill="#00ff00"/><rect x="955" y="501" width="1" height="38" fill="#00ff00"/><rect x="954" y="504" width="3" height="6" fill="#00ff00"/><rect x="959" y="496" width="1" height="14" fill="#ff0000"/><rect x="958" y="496" width="3" height="14" fill="#ff0000"/><rect x="963" y="445" width="1" height="58" fill="#ff0000"/><rect x="962" y="468" width="3" height="33" fill="#ff0000"/><rect x="967" y="466" width="1" height="23" fill="#00ff00"/><rect x="966" y="468" width="3" height="20" fill="#00ff00"/><rect x="971" y="487" width="1" height="53" fill="#00ff00"/><rect x="970" y="488" width="3" height="52" fill="#00ff00"/><rect x="975" y="502" width="1" height="38" fill="#ff0000"/><rect x="974" y="515" width="3" height="25" fill="#ff0000"/><rect x="979" y="495" width="1" height="29" fill="#ff0000"/><rect x="978" y="496" width="3" height="19" fill="#ff0000"/><rect x="983" y="490" width="1" height="11" fill="#00ff00"/><rect x="982" y="491" width="3" height="9" fill="#00ff00"/><rect x="987" y="473" width="1" height="32" fill="#ff0000"/><rect x="986" y="488" width="3" height="13" fill="#ff0000"/><rect x="991" y="481" width="1" height="33" fill="#ff0000"/><rect x="990" y="484" width="3" height="4" fill="#ff0000"/><rect x="995" y="466" width="1" height="51" fill="#00ff00"/><rect x="994" y="484" width="3" height="28" fill="#00ff00"/><rect x="999" y="504" width="1" height="21" fill="#00ff00"/><rect x="998" y="511" width="3" height="7" fill="#00ff00"/><rect x="1003" y="504" width="1" height="17" fill="#00ff00"/><rect x="1002" y="516" width="3" height="4" fill="#00ff00"/><rect x="1007" y="517" width="1" height="5" fill="#ff0000"/><rect x="1006" y="518" width="3" height="3" fill="#ff0000"/><rect x="1011" y="516" width="1" height="24" fill="#00ff00"/><rect x="1010" y="517" width="3" height="19" fill="#00ff00"/><rect x="1015" y="531" width="1" height="30" fill="#00ff00"/><rect x="1014" y="537" width="3" height="15" fill="#00ff00"/><rect x="1019" y="508" width="1" height="48" fill="#ff0000"/><rect x="1018" y="508" width="3" height="44" fill="#ff0000"/><rect x="1023" y="485" width="1" height="41" fill="#00ff00"/><rect x="1022" y="508" width="3" height="17" fill="#00ff00"/><rect x="1027" y="497" width="1" height="38" fill="#ff0000"/><rect x="1026" y="500" width="3" height="24" fill="#ff0000"/><rect x="1031" y="496" width="1" height="10" fill="#00ff00"/><rect x="1030" y="500" width="3" height="5" fill="#00ff00"/><rect x="1035" y="502" width="1" height="26" fill="#00ff00"/><rect x="1034" y="508" width="3" height="2" fill="#00ff00"/><rect x="1039" y="502" width="1" height="26" fill="#00ff00"/><rect x="1038" y="510" width="3" height="12" fill="#00ff00"/><rect x="1043" y="505" width="1" height="26" fill="#00ff00"/><rect x="1042" y="521" width="3" height="2" fill="#00ff00"/><rect x="1047" y="505" width="1" height="44" fill="#00ff00"/><rect x="1046" y="522" width="3" height="6" fill="#00ff00"/><rect x="1051" y="515" width="1" height="40" fill="#00ff00"/><rect x="1050" y="527" width="3" height="20" fill="#00ff00"/><rect x="1055" y="538" width="1" height="11" fill="#ff0000"/><rect x="1054" y="542" width="3" height="6" fill="#ff0000"/><rect x="1059" y="539" width="1" height="28" fill="#00ff00"/><rect x="1058" y="546" width="3" height="15" fill="#00ff00"/><rect x="1063" y="515" width="1" height="52" fill="#ff0000"/><rect x="1062" y="530" width="3" height="31" fill="#ff0000"/><rect x="1067" y="497" width="1" height="34" fill="#ff0000"/><rect x="1066" y="512" width="3" height="19" fill="#ff0000"/><rect x="1071" y="494" width="1" height="29" fill="#00ff00"/><rect x="1070" y="512" width="3" height="2" fill="#00ff00"/><rect x="1075" y="484" width="1" height="36" fill="#ff0000"/><rect x="1074" y="492" width="3" height="21" fill="#ff0000"/><rect x="1079" y="489" width="1" height="17" fill="#00ff00"/><rect x="1078" y="492" width="3" height="14" fill="#00ff00"/><rect x="1083" y="485" width="1" height="21" fill="#ff0000"/><rect x="1082" y="486" width="3" height="20" fill="#ff0000"/><rect x="1087" y="465" width="1" height="23" fill="#ff0000"/><rect x="1086" y="481" width="3" height="7" fill="#ff0000"/><rect x="1091" y="470" width="1" height="35" fill="#00ff00"/><rect x="1090" y="481" width="3" height="20" fill="#00ff00"/><rect x="1095" y="497" width="1" height="45" fill="#00ff00"/><rect x="1094" y="499" width="3" height="29" fill="#00ff00"/><rect x="1099" y="511" width="1" height="19" fill="#ff0000"/><rect x="1098" y="520" width="3" height="8" fill="#ff0000"/><rect x="1103" y="517" width="1" height="6" fill="#ff0000"/><rect x="1102" y="518" width="3" height="2" fill="#ff0000"/><rect x="1107" y="517" width="1" height="21" fill="#00ff00"/><rect x="1106" y="521" width="3" height="10" fill="#00ff00"/><rect x="1111" y="520" width="1" height="21" fill="#ff0000"/><rect x="1110" y="523" width="3" height="8" fill="#ff0000"/><rect x="1115" y="521" width="1" height="18" fill="#00ff00"/><rect x="1114" y="524" width="3" height="1" fill="#00ff00"/><rect x="1119" y="496" width="1" height="37" fill="#ff0000"/><rect x="1118" y="520" width="3" height="4" fill="#ff0000"/><rect x="1123" y="509" width="1" height="20" fill="#00ff00"/><rect x="1122" y="516" width="3" height="2" fill="#00ff00"/><rect x="1127" y="514" width="1" height="4" fill="#ff0000"/><rect x="1126" y="515" width="3" height="3" fill="#ff0000"/><rect x="1131" y="481" width="1" height="41" fill="#ff0000"/><rect x="1130" y="484" width="3" height="32" fill="#ff0000"/><rect x="1135" y="464" width="1" height="34" fill="#ff0000"/><rect x="1134" y="466" width="3" height="18" fill="#ff0000"/><rect x="1139" y="445" width="1" height="26" fill="#ff0000"/><rect x="1138" y="449" width="3" height="17" fill="#ff0000"/><rect x="1143" y="425" width="1" height="32" fill="#ff0000"/><rect x="1142" y="434" width="3" height="16" fill="#ff0000"/><rect x="1147" y="417" width="1" height="23" fill="#ff0000"/><rect x="1146" y="419" width="3" height="15" fill="#ff0000"/><rect x="1151" y="417" width="1" height="6" fill="#00ff00"/><rect x="1150" y="419" width="3" height="3" fill="#00ff00"/><rect x="1155" y="417" width="1" height="26" fill="#00ff00"/><rect x="1154" y="424" width="3" height="18" fill="#00ff00"/><rect x="1159" y="440" width="1" height="30" fill="#00ff00"/><rect x="1158" y="442" width="3" height="15" fill="#00ff00"/><rect x="1163" y="446" width="1" height="38" fill="#00ff00"/><rect x="1162" y="457" width="3" height="15" fill="#00ff00"/><rect x="1167" y="456" width="1" height="28" fill="#00ff00"/><rect x="1166" y="471" width="3" height="4" fill="#00ff00"/><rect x="1171" y="456" width="1" height="21" fill="#ff0000"/><rect x="1170" y="463" width="3" height="13" fill="#ff0000"/><rect x="1175" y="477" width="1" height="4" fill="#00ff00"/><rect x="1174" y="478" width="3" height="2" fill="#00ff00"/><rect x="1179" y="472" width="1" height="21" fill="#00ff00"/><rect x="1178" y="477" width="3" height="11" fill="#00ff00"/><rect x="1183" y="485" width="1" height="14" fill="#00ff00"/><rect x="1182" y="486" width="3" height="3" fill="#00ff00"/><rect x="1187" y="473" width="1" height="20" fill="#ff0000"/><rect x="1186" y="480" width="3" height="9" fill="#ff0000"/><rect x="1191" y="467" width="1" height="15" fill="#ff0000"/><rect x="1190" y="477" width="3" height="4" fill="#ff0000"/><rect x="1195" y="477" width="1" height="39" fill="#00ff00"/><rect x="1194" y="477" width="3" height="38" fill="#00ff00"/><rect x="1199" y="512" width="1" height="6" fill="#00ff00"/><rect x="1198" y="514" width="3" height="3" fill="#00ff00"/><rect x="1203" y="504" width="1" height="19" fill="#00ff00"/><rect x="1202" y="514" width="3" height="4" fill="#00ff00"/><rect x="1207" y="491" width="1" height="32" fill="#ff0000"/><rect x="1206" y="492" width="3" height="26" fill="#ff0000"/><rect x="1211" y="484" width="1" height="26" fill="#00ff00"/><rect x="1210" y="492" width="3" height="11" fill="#00ff00"/><rect x="1215" y="489" width="1" height="15" fill="#ff0000"/><rect x="1214" y="493" width="3" height="10" fill="#ff0000"/><rect x="1219" y="486" width="1" height="19" fill="#ff0000"/><rect x="1218" y="489" width="3" height="5" fill="#ff0000"/><rect x="1223" y="488" width="1" height="3" fill="#00ff00"/><rect x="1222" y="489" width="3" height="1" fill="#00ff00"/><rect x="1227" y="483" width="1" height="38" fill="#00ff00"/><rect x="1226" y="489" width="3" height="30" fill="#00ff00"/><rect x="1231" y="512" width="1" height="27" fill="#00ff00"/><rect x="1230" y="519" width="3" height="12" fill="#00ff00"/><rect x="1235" y="529" width="1" height="21" fill="#00ff00"/><rect x="1234" y="529" width="3" height="16" fill="#00ff00"/><rect x="1239" y="527" width="1" height="21" fill="#ff0000"/><rect x="1238" y="528" width="3" height="17" fill="#ff0000"/><rect x="1243" y="519" width="1" height="31" fill="#00ff00"/><rect x="1242" y="528" width="3" height="11" fill="#00ff00"/><rect x="1247" y="534" width="1" height="11" fill="#00ff00"/><rect x="1246" y="538" width="3" height="5" fill="#00ff00"/><rect x="1251" y="526" width="1" height="19" fill="#ff0000"/><rect x="1250" y="529" width="3" height="12" fill="#ff0000"/><rect x="1255" y="519" width="1" height="17" fill="#00ff00"/><rect x="1254" y="529" width="3" height="4" fill="#00ff00"/><rect x="1259" y="502" width="1" height="34" fill="#ff0000"/><rect x="1258" y="518" width="3" height="15" fill="#ff0000"/><rect x="1263" y="480" width="1" height="38" fill="#ff0000"/><rect x="1262" y="481" width="3" height="37" fill="#ff0000"/><rect x="1267" y="479" width="1" height="15" fill="#00ff00"/><rect x="1266" y="481" width="3" height="11" fill="#00ff00"/></g><g clip-path="url(#cm)"><polyline points="3.5,97.5 7.5,96.5 11.5,96.5 15.5,97.5 19.5,98.5 23.5,99.5 27.5,101.5 31.5,101.5 35.5,102.5 39.5,103.5 43.5,102.5 47.5,102.5 51.5,102.5 55.5,102.5 59.5,103.5 63.5,104.5 67.5,105.5 71.5,106.5 75.5,108.5 79.5,110.5 83.5,110.5 87.5,109.5 91.5,107.5 95.5,106.5 99.5,104.5 103.5,102.5 107.5,100.5 111.5,99.5 115.5,98.5 119.5,98.5 123.5,99.5 127.5,100.5 131.5,100.5 135.5,100.5 139.5,99.5 143.5,98.5 147.5,98.5 151.5,99.5 155.5,100.5 159.5,101.5 163.5,104.5 167.5,106.5 171.5,107.5 175.5,110.5 179.5,111.5 183.5,113.5 187.5,114.5 191.5,115.5 195.5,116.5 199.5,118.5 203.5,120.5 207.5,121.5 211.5,125.5 215.5,129.5 219.5,134.5 223.5,139.5 227.5,144.5 231.5,149.5 235.5,154.5 239.5,158.5 243.5,163.5 247.5,165.5 251.5,168.5 255.5,171.5 259.5,173.5 263.5,176.5 267.5,179.5 271.5,182.5 275.5,186.5 279.5,190.5 283.5,192.5 287.5,195.5 291.5,197.5 295.5,199.5 299.5,201.5 303.5,203.5 307.5,205.5 311.5,207.5 315.5,209.5 319.5,210.5 323.5,211.5 327.5,213.5 331.5,215.5 335.5,217.5 339.5,217.5 343.5,217.5 347.5,216.5 351.5,215.5 355.5,214.5 359.5,213.5 363.5,212.5 367.5,211.5 371.5,210.5 375.5,209.5 379.5,207.5 383.5,206.5 387.5,204.5 391.5,202.5 395.5,199.5 399.5,196.5 403.5,194.5 407.5,192.5 411.5,191.5 415.5,189.5 419.5,188.5 423.5,188.5 427.5,188.5 431.5,189.5 435.5,191.5 439.5,194.5 443.5,197.5 447.5,200.5 451.5,205.5 455.5,209.5 459.5,215.5 463.5,221.5 467.5,227.5 471.5,231.5 475.5,234.5 479.5,238.5 483.5,243.5 487.5,245.5 491.5,246.5 495.5,245.5 499.5,244.5 503.5,243.5 507.5,243.5 511.5,243.5 515.5,244.5 519.5,247.5 523.5,250.5 527.5,255.5 531.5,257.5 535.5,260.5 539.5,261.5 543.5,261.5 547.5,259.5 551.5,257.5 555.5,255.5 559.5,252.5 563.5,249.5 567.5,247.5 571.5,242.5 575.5,237.5 579.5,231.5 583.5,227.5 587.5,222.5 591.5,220.5 595.5,217.5 599.5,215.5 603.5,212.5 607.5,211.5 611.5,212.5 615.5,214.5 619.5,216.5 623.5,218.5 627.5,219.5 631.5,220.5 635.5,221.5 639.5,220.5 643.5,220.5 647.5,218.5 651.5,217.5 655.5,216.5 659.5,215.5 663.5,214.5 667.5,216.5 671.5,217.5 675.5,217.5 679.5,218.5 683.5,218.5 687.5,217.5 691.5,215.5 695.5,214.5 699.5,214.5 703.5,212.5 707.5,212.5 711.5,212.5 715.5,211.5 719.5,210.5 723.5,209.5 727.5,210.5 731.5,210.5 735.5,211.5 739.5,214.5 743.5,216.5 747.5,218.5 751.5,220.5 755.5,222.5 759.5,224.5 763.5,224.5 767.5,224.5 771.5,225.5 775.5,229.5 779.5,234.5 783.5,240.5 787.5,243.5 791.5,246.5 795.5,250.5 799.5,253.5 803.5,256.5 807.5,260.5 811.5,263.5 815.5,267.5 819.5,271.5 823.5,275.5 827.5,278.5 831.5,282.5 835.5,286.5 839.5,290.5 843.5,294.5 847.5,297.5 851.5,301.5 855.5,304.5 859.5,307.5 863.5,310.5 867.5,313.5 871.5,317.5 875.5,321.5 879.5,323.5 883.5,327.5 887.5,331.5 891.5,333.5 895.5,335.5 899.5,335.5 903.5,334.5 907.5,337.5 911.5,339.5 915.5,341.5 919.5,344.5 923.5,347.5 927.5,352.5 931.5,357.5 935.5,362.5 939.5,366.5 943.5,371.5 947.5,376.5 951.5,383.5 955.5,389.5 959.5,394.5 963.5,400.5 967.5,405.5 971.5,412.5 975.5,417.5 979.5,423.5 983.5,428.5 987.5,432.5 991.5,437.5 995.5,441.5 999.5,446.5 1003.5,451.5 1007.5,457.5 1011.5,462.5 1015.5,468.5 1019.5,474.5 1023.5,480.5 1027.5,484.5 1031.5,488.5 1035.5,493.5 1039.5,497.5 1043.5,501.5 1047.5,503.5 1051.5,507.5 1055.5,509.5 1059.5,513.5 1063.5,514.5 1067.5,515.5 1071.5,515.5 1075.5,514.5 1079.5,515.5 1083.5,515.5 1087.5,515.5 1091.5,514.5 1095.5,514.5 1099.5,515.5 1103.5,516.5 1107.5,517.5 1111.5,518.5 1115.5,519.5 1119.5,519.5 1123.5,519.5 1127.5,519.5 1131.5,517.5 1135.5,514.5 1139.5,512.5 1143.5,509.5 1147.5,506.5 1151.5,504.5 1155.5,501.5 1159.5,499.5 1163.5,498.5 1167.5,496.5 1171.5,493.5 1175.5,491.5 1179.5,489.5 1183.5,487.5 1187.5,486.5 1191.5,485.5 1195.5,486.5 1199.5,486.5 1203.5,487.5 1207.5,487.5 1211.5,488.5 1215.5,486.5 1219.5,485.5 1223.5,484.5 1227.5,484.5 1231.5,484.5 1235.5,485.5 1239.5,485.5 1243.5,486.5 1247.5,487.5 1251.5,488.5 1255.5,491.5 1259.5,493.5 1263.5,494.5 1267.5,497.5" fill="none" stroke="#0000dc" stroke-width="1" shape-rendering="crispEdges"/><polyline points="3.5,103.5 7.5,104.5 11.5,105.5 15.5,109.5 19.5,114.5 23.5,115.5 27.5,113.5 31.5,111.5 35.5,109.5 39.5,107.5 43.5,104.5 47.5,104.5 51.5,104.5 55.5,104.5 59.5,106.5 63.5,108.5 67.5,108.5 71.5,107.5 75.5,107.5 79.5,105.5 83.5,103.5 87.5,103.5 91.5,102.5 95.5,101.5 99.5,101.5 103.5,101.5 107.5,99.5 111.5,97.5 115.5,94.5 119.5,89.5 123.5,88.5 127.5,89.5 131.5,89.5 135.5,89.5 139.5,90.5 143.5,90.5 147.5,93.5 151.5,97.5 155.5,101.5 159.5,105.5 163.5,111.5 167.5,116.5 171.5,122.5 175.5,129.5 179.5,133.5 183.5,136.5 187.5,139.5 191.5,140.5 195.5,144.5 199.5,147.5 203.5,150.5 207.5,152.5 211.5,155.5 215.5,160.5 219.5,165.5 223.5,171.5 227.5,177.5 231.5,181.5 235.5,185.5 239.5,187.5 243.5,192.5 247.5,196.5 251.5,200.5 255.5,203.5 259.5,205.5 263.5,208.5 267.5,210.5 271.5,212.5 275.5,213.5 279.5,215.5 283.5,214.5 287.5,215.5 291.5,215.5 295.5,217.5 299.5,216.5 303.5,217.5 307.5,217.5 311.5,218.5 315.5,219.5 319.5,219.5 323.5,218.5 327.5,218.5 331.5,218.5 335.5,218.5 339.5,219.5 343.5,218.5 347.5,217.5 351.5,214.5 355.5,212.5 359.5,209.5 363.5,207.5 367.5,204.5 371.5,202.5 375.5,200.5 379.5,198.5 383.5,193.5 387.5,186.5 391.5,180.5 395.5,173.5 399.5,169.5 403.5,167.5 407.5,166.5 411.5,166.5 415.5,166.5 419.5,166.5 423.5,169.5 427.5,171.5 431.5,176.5 435.5,184.5 439.5,194.5 443.5,203.5 447.5,214.5 451.5,231.5 455.5,247.5 459.5,265.5 463.5,281.5 467.5,295.5 471.5,303.5 475.5,311.5 479.5,316.5 483.5,324.5 487.5,324.5 491.5,320.5 495.5,309.5 499.5,298.5 503.5,284.5 507.5,268.5 511.5,252.5 515.5,234.5 519.5,223.5 523.5,217.5 527.5,217.5 531.5,215.5 535.5,212.5 539.5,205.5 543.5,202.5 547.5,200.5 551.5,203.5 555.5,207.5 559.5,213.5 563.5,217.5 567.5,223.5 571.5,228.5 575.5,227.5 579.5,223.5 583.5,221.5 587.5,219.5 591.5,217.5 595.5,217.5 599.5,219.5 603.5,223.5 607.5,225.5 611.5,228.5 615.5,227.5 619.5,225.5 623.5,222.5 627.5,218.5 631.5,215.5 635.5,212.5 639.5,210.5 643.5,212.5 647.5,214.5 651.5,215.5 655.5,213.5 659.5,210.5 663.5,208.5 667.5,209.5 671.5,210.5 675.5,211.5 679.5,213.5 683.5,215.5 687.5,215.5 691.5,216.5 695.5,214.5 699.5,211.5 703.5,207.5 707.5,207.5 711.5,208.5 715.5,209.5 719.5,209.5 723.5,209.5 727.5,211.5 731.5,211.5 735.5,213.5 739.5,216.5 743.5,220.5 747.5,224.5 751.5,227.5 755.5,231.5 759.5,236.5 763.5,237.5 767.5,240.5 771.5,246.5 775.5,254.5 779.5,264.5 783.5,274.5 787.5,281.5 791.5,284.5 795.5,288.5 799.5,293.5 803.5,296.5 807.5,301.5 811.5,304.5 815.5,306.5 819.5,311.5 823.5,317.5 827.5,321.5 831.5,321.5 835.5,320.5 839.5,316.5 843.5,317.5 847.5,320.5 851.5,321.5 855.5,323.5 859.5,325.5 863.5,327.5 867.5,331.5 871.5,335.5 875.5,338.5 879.5,340.5 883.5,342.5 887.5,345.5 891.5,347.5 895.5,351.5 899.5,353.5 903.5,354.5 907.5,357.5 911.5,359.5 915.5,361.5 919.5,365.5 923.5,370.5 927.5,376.5 931.5,382.5 935.5,388.5 939.5,395.5 943.5,404.5 947.5,413.5 951.5,423.5 955.5,435.5 959.5,445.5 963.5,452.5 967.5,460.5 971.5,472.5 975.5,481.5 979.5,486.5 983.5,490.5 987.5,493.5 991.5,495.5 995.5,498.5 999.5,501.5 1003.5,502.5 1007.5,503.5 1011.5,505.5 1015.5,509.5 1019.5,512.5 1023.5,515.5 1027.5,512.5 1031.5,511.5 1035.5,512.5 1039.5,514.5 1043.5,516.5 1047.5,519.5 1051.5,522.5 1055.5,523.5 1059.5,526.5 1063.5,527.5 1067.5,526.5 1071.5,523.5 1075.5,522.5 1079.5,520.5 1083.5,519.5 1087.5,518.5 1091.5,517.5 1095.5,517.5 1099.5,517.5 1103.5,516.5 1107.5,515.5 1111.5,514.5 1115.5,511.5 1119.5,511.5 1123.5,511.5 1127.5,511.5 1131.5,511.5 1135.5,508.5 1139.5,505.5 1143.5,502.5 1147.5,496.5 1151.5,488.5 1155.5,483.5 1159.5,478.5 1163.5,474.5 1167.5,471.5 1171.5,466.5 1175.5,464.5 1179.5,462.5 1183.5,460.5 1187.5,459.5 1191.5,460.5 1195.5,465.5 1199.5,471.5 1203.5,478.5 1207.5,483.5 1211.5,487.5 1215.5,490.5 1219.5,491.5 1223.5,492.5 1227.5,496.5 1231.5,500.5 1235.5,504.5 1239.5,506.5 1243.5,511.5 1247.5,515.5 1251.5,516.5 1255.5,518.5 1259.5,517.5 1263.5,517.5 1267.5,516.5" fill="none" stroke="#ff0000" stroke-width="1" shape-rendering="crispEdges"/><polyline points="3.5,95.5 7.5,92.5 11.5,94.5 15.5,101.5 19.5,113.5 23.5,121.5 27.5,128.5 31.5,127.5 35.5,121.5 39.5,112.5 43.5,101.5 47.5,90.5 51.5,87.5 55.5,86.5 59.5,91.5 63.5,100.5 67.5,108.5 71.5,112.5 75.5,119.5 79.5,119.5 83.5,115.5 87.5,113.5 91.5,107.5 95.5,97.5 99.5,89.5 103.5,83.5 107.5,75.5 111.5,72.5 115.5,70.5 119.5,67.5 123.5,73.5 127.5,85.5 131.5,96.5 135.5,107.5 139.5,116.5 143.5,119.5 147.5,117.5 151.5,120.5 155.5,122.5 159.5,126.5 163.5,133.5 167.5,137.5 171.5,139.5 175.5,145.5 179.5,151.5 183.5,156.5 187.5,158.5 191.5,159.5 195.5,157.5 199.5,158.5 203.5,156.5 207.5,157.5 211.5,164.5 215.5,173.5 219.5,184.5 223.5,196.5 227.5,210.5 231.5,217.5 235.5,219.5 239.5,216.5 243.5,216.5 247.5,211.5 251.5,210.5 255.5,208.5 259.5,206.5 263.5,203.5 267.5,203.5 271.5,205.5 275.5,214.5 279.5,223.5 283.5,227.5 287.5,231.5 291.5,230.5 295.5,227.5 299.5,221.5 303.5,220.5 307.5,216.5 311.5,215.5 315.5,213.5 319.5,209.5 323.5,204.5 327.5,206.5 331.5,213.5 335.5,219.5 339.5,227.5 343.5,232.5 347.5,227.5 351.5,217.5 355.5,203.5 359.5,192.5 363.5,184.5 367.5,180.5 371.5,178.5 375.5,176.5 379.5,172.5 383.5,167.5 387.5,163.5 391.5,158.5 395.5,153.5 399.5,152.5 403.5,156.5 407.5,160.5 411.5,164.5 415.5,171.5 419.5,176.5 423.5,184.5 427.5,193.5 431.5,206.5 435.5,223.5 439.5,245.5 443.5,260.5 447.5,278.5 451.5,305.5 455.5,329.5 459.5,355.5 463.5,377.5 467.5,389.5 471.5,373.5 475.5,355.5 479.5,329.5 483.5,315.5 487.5,289.5 491.5,270.5 495.5,239.5 499.5,208.5 503.5,165.5 507.5,147.5 511.5,139.5 515.5,145.5 519.5,168.5 523.5,201.5 527.5,231.5 531.5,252.5 535.5,267.5 539.5,264.5 543.5,247.5 547.5,222.5 551.5,206.5 555.5,192.5 559.5,189.5 563.5,191.5 567.5,203.5 571.5,214.5 575.5,225.5 579.5,229.5 583.5,240.5 587.5,241.5 591.5,236.5 595.5,236.5 599.5,236.5 603.5,229.5 607.5,224.5 611.5,223.5 615.5,216.5 619.5,208.5 623.5,200.5 627.5,193.5 631.5,190.5 635.5,188.5 639.5,196.5 643.5,212.5 647.5,226.5 651.5,235.5 655.5,238.5 659.5,230.5 663.5,215.5 667.5,207.5 671.5,201.5 675.5,201.5 679.5,208.5 683.5,212.5 687.5,209.5 691.5,207.5 695.5,207.5 699.5,205.5 703.5,203.5 707.5,211.5 711.5,214.5 715.5,214.5 719.5,211.5 723.5,213.5 727.5,211.5 731.5,212.5 735.5,220.5 739.5,231.5 743.5,240.5 747.5,245.5 751.5,252.5 755.5,255.5 759.5,260.5 763.5,260.5 767.5,259.5 771.5,265.5 775.5,278.5 779.5,290.5 783.5,314.5 787.5,325.5 791.5,327.5 795.5,325.5 799.5,321.5 803.5,307.5 807.5,308.5 811.5,311.5 815.5,309.5 819.5,311.5 823.5,318.5 827.5,322.5 831.5,326.5 835.5,329.5 839.5,329.5 843.5,323.5 847.5,323.5 851.5,327.5 855.5,329.5 859.5,331.5 863.5,337.5 867.5,342.5 871.5,346.5 875.5,354.5 879.5,359.5 883.5,365.5 887.5,365.5 891.5,365.5 895.5,364.5 899.5,360.5 903.5,357.5 907.5,359.5 911.5,362.5 915.5,361.5 919.5,372.5 923.5,386.5 927.5,400.5 931.5,416.5 935.5,433.5 939.5,447.5 943.5,459.5 947.5,470.5 951.5,480.5 955.5,491.5 959.5,498.5 963.5,495.5 967.5,493.5 971.5,500.5 975.5,501.5 979.5,501.5 983.5,507.5 987.5,507.5 991.5,496.5 995.5,495.5 999.5,500.5 1003.5,504.5 1007.5,510.5 1011.5,520.5 1015.5,528.5 1019.5,526.5 1023.5,527.5 1027.5,524.5 1031.5,518.5 1035.5,509.5 1039.5,512.5 1043.5,511.5 1047.5,517.5 1051.5,525.5 1055.5,532.5 1059.5,539.5 1063.5,541.5 1067.5,538.5 1071.5,531.5 1075.5,521.5 1079.5,510.5 1083.5,501.5 1087.5,495.5 1091.5,493.5 1095.5,500.5 1099.5,503.5 1103.5,509.5 1107.5,519.5 1111.5,523.5 1115.5,523.5 1119.5,523.5 1123.5,523.5 1127.5,520.5 1131.5,512.5 1135.5,500.5 1139.5,486.5 1143.5,469.5 1147.5,450.5 1151.5,438.5 1155.5,433.5 1159.5,435.5 1163.5,442.5 1167.5,453.5 1171.5,461.5 1175.5,469.5 1179.5,475.5 1183.5,479.5 1187.5,480.5 1191.5,483.5 1195.5,490.5 1199.5,495.5 1203.5,501.5 1207.5,503.5 1211.5,508.5 1215.5,504.5 1219.5,498.5 1223.5,493.5 1227.5,498.5 1231.5,504.5 1235.5,514.5 1239.5,522.5 1243.5,532.5 1247.5,537.5 1251.5,536.5 1255.5,534.5 1259.5,532.5 1263.5,520.5 1267.5,510.5" fill="none" stroke="#ffa500" stroke-width="1" shape-rendering="crispEdges"/></g><g shape-rendering="crispEdges"><rect x="2" y="273" width="6" height="6" fill="#ff0000"/><rect x="4" y="275" width="2" height="2" fill="#fff"/><rect x="1589" y="273" width="6" height="6" fill="#ff0000"/><rect x="1591" y="275" width="2" height="2" fill="#fff"/><rect x="2" y="341" width="6" height="6" fill="#ff0000"/><rect x="4" y="343" width="2" height="2" fill="#fff"/><rect x="1589" y="341" width="6" height="6" fill="#ff0000"/><rect x="1591" y="343" width="2" height="2" fill="#fff"/><rect x="2" y="411" width="6" height="6" fill="#ff0000"/><rect x="4" y="413" width="2" height="2" fill="#fff"/><rect x="1589" y="411" width="6" height="6" fill="#ff0000"/><rect x="1591" y="413" width="2" height="2" fill="#fff"/><rect x="2" y="477" width="6" height="6" fill="#00ff00"/><rect x="4" y="479" width="2" height="2" fill="#fff"/><rect x="1589" y="477" width="6" height="6" fill="#00ff00"/><rect x="1591" y="479" width="2" height="2" fill="#fff"/><rect x="2" y="562" width="6" height="6" fill="#0000ff"/><rect x="4" y="564" width="2" height="2" fill="#fff"/><rect x="1589" y="562" width="6" height="6" fill="#0000ff"/><rect x="1591" y="564" width="2" height="2" fill="#fff"/></g><g shape-rendering="crispEdges" fill="none" stroke="#000" stroke-width="1"><rect x="2.5" y="24.5" width="1593" height="556"/><rect x="2.5" y="582.5" width="1593" height="102"/><rect x="2.5" y="686.5" width="1593" height="101"/></g><g shape-rendering="crispEdges" fill="#000"><rect x="1596" y="49" width="3" height="1"/><rect x="1596" y="82" width="3" height="1"/><rect x="1596" y="115" width="3" height="1"/><rect x="1596" y="148" width="3" height="1"/><rect x="1596" y="181" width="3" height="1"/><rect x="1596" y="214" width="3" height="1"/><rect x="1596" y="247" width="3" height="1"/><rect x="1596" y="280" width="3" height="1"/><rect x="1596" y="313" width="3" height="1"/><rect x="1596" y="346" width="3" height="1"/><rect x="1596" y="379" width="3" height="1"/><rect x="1596" y="412" width="3" height="1"/><rect x="1596" y="445" width="3" height="1"/><rect x="1596" y="478" width="3" height="1"/><rect x="1596" y="511" width="3" height="1"/><rect x="1596" y="544" width="3" height="1"/><rect x="1596" y="577" width="3" height="1"/><rect x="1596" y="583" width="3" height="1"/><rect x="1596" y="684" width="3" height="1"/><rect x="1596" y="686" width="3" height="1"/><rect x="1596" y="721" width="3" height="1"/><rect x="1596" y="787" width="3" height="1"/><rect x="3" y="788" width="1" height="3"/><rect x="67" y="788" width="1" height="3"/><rect x="131" y="788" width="1" height="3"/><rect x="195" y="788" width="1" height="3"/><rect x="259" y="788" width="1" height="3"/><rect x="323" y="788" width="1" height="3"/><rect x="387" y="788" width="1" height="3"/><rect x="451" y="788" width="1" height="3"/><rect x="515" y="788" width="1" height="3"/><rect x="579" y="788" width="1" height="3"/><rect x="643" y="788" width="1" height="3"/><rect x="707" y="788" width="1" height="3"/><rect x="771" y="788" width="1" height="3"/><rect x="835" y="788" width="1" height="3"/><rect x="899" y="788" width="1" height="3"/><rect x="963" y="788" width="1" height="3"/><rect x="1027" y="788" width="1" height="3"/><rect x="1091" y="788" width="1" height="3"/><rect x="1155" y="788" width="1" height="3"/><rect x="1219" y="788" width="1" height="3"/></g><g clip-path="url(#cr)"><g shape-rendering="crispEdges"><line x1="4" y1="613.5" x2="1595" y2="613.5" stroke="#c0c0c0" stroke-width="1" stroke-dasharray="3,3"/><line x1="4" y1="653.5" x2="1595" y2="653.5" stroke="#c0c0c0" stroke-width="1" stroke-dasharray="3,3"/></g><polyline points="3.5,624.5 7.5,631.5 11.5,637.5 15.5,643.5 19.5,644.5 23.5,643.5 27.5,642.5 31.5,631.5 35.5,631.5 39.5,627.5 43.5,624.5 47.5,623.5 51.5,629.5 55.5,630.5 59.5,638.5 63.5,640.5 67.5,637.5 71.5,637.5 75.5,641.5 79.5,636.5 83.5,631.5 87.5,633.5 91.5,626.5 95.5,623.5 99.5,624.5 103.5,621.5 107.5,621.5 111.5,622.5 115.5,620.5 119.5,619.5 123.5,636.5 127.5,645.5 131.5,641.5 135.5,641.5 139.5,636.5 143.5,638.5 147.5,641.5 151.5,644.5 155.5,643.5 159.5,641.5 163.5,647.5 167.5,644.5 171.5,644.5 175.5,650.5 179.5,646.5 183.5,650.5 187.5,642.5 191.5,640.5 195.5,641.5 199.5,644.5 203.5,645.5 207.5,641.5 211.5,649.5 215.5,652.5 219.5,656.5 223.5,656.5 227.5,657.5 231.5,653.5 235.5,649.5 239.5,645.5 243.5,650.5 247.5,643.5 251.5,645.5 255.5,639.5 259.5,639.5 263.5,641.5 267.5,642.5 271.5,647.5 275.5,650.5 279.5,651.5 283.5,643.5 287.5,643.5 291.5,639.5 295.5,642.5 299.5,637.5 303.5,638.5 307.5,635.5 311.5,636.5 315.5,637.5 319.5,629.5 323.5,627.5 327.5,639.5 331.5,644.5 335.5,646.5 339.5,640.5 343.5,634.5 347.5,629.5 351.5,626.5 355.5,624.5 359.5,623.5 363.5,624.5 367.5,623.5 371.5,626.5 375.5,623.5 379.5,618.5 383.5,617.5 387.5,618.5 391.5,619.5 395.5,616.5 399.5,619.5 403.5,629.5 407.5,630.5 411.5,630.5 415.5,634.5 419.5,632.5 423.5,645.5 427.5,648.5 431.5,652.5 435.5,657.5 439.5,660.5 443.5,661.5 447.5,664.5 451.5,669.5 455.5,670.5 459.5,672.5 463.5,665.5 467.5,656.5 471.5,637.5 475.5,637.5 479.5,635.5 483.5,642.5 487.5,628.5 491.5,623.5 495.5,617.5 499.5,616.5 503.5,615.5 507.5,621.5 511.5,622.5 515.5,625.5 519.5,635.5 523.5,640.5 527.5,642.5 531.5,636.5 535.5,635.5 539.5,631.5 543.5,628.5 547.5,625.5 551.5,627.5 555.5,626.5 559.5,631.5 563.5,631.5 567.5,635.5 571.5,636.5 575.5,635.5 579.5,634.5 583.5,639.5 587.5,635.5 591.5,631.5 595.5,634.5 599.5,633.5 603.5,633.5 607.5,631.5 611.5,629.5 615.5,627.5 619.5,625.5 623.5,625.5 627.5,625.5 631.5,627.5 635.5,626.5 639.5,637.5 643.5,644.5 647.5,641.5 651.5,637.5 655.5,629.5 659.5,627.5 663.5,627.5 667.5,633.5 671.5,632.5 675.5,630.5 679.5,635.5 683.5,632.5 687.5,629.5 691.5,630.5 695.5,631.5 699.5,633.5 703.5,630.5 707.5,640.5 711.5,633.5 715.5,630.5 719.5,630.5 723.5,632.5 727.5,638.5 731.5,634.5 735.5,640.5 739.5,642.5 743.5,642.5 747.5,642.5 751.5,641.5 755.5,643.5 759.5,648.5 763.5,638.5 767.5,639.5 771.5,644.5 775.5,652.5 779.5,654.5 783.5,658.5 787.5,641.5 791.5,638.5 795.5,641.5 799.5,642.5 803.5,640.5 807.5,640.5 811.5,639.5 815.5,639.5 819.5,643.5 823.5,646.5 827.5,642.5 831.5,640.5 835.5,640.5 839.5,641.5 843.5,637.5 847.5,641.5 851.5,642.5 855.5,642.5 859.5,642.5 863.5,643.5 867.5,647.5 871.5,647.5 875.5,651.5 879.5,647.5 883.5,648.5 887.5,643.5 891.5,644.5 895.5,647.5 899.5,636.5 903.5,638.5 907.5,643.5 911.5,644.5 915.5,643.5 919.5,649.5 923.5,654.5 927.5,657.5 931.5,659.5 935.5,658.5 939.5,660.5 943.5,662.5 947.5,664.5 951.5,665.5 955.5,665.5 959.5,659.5 963.5,647.5 967.5,651.5 971.5,658.5 975.5,650.5 979.5,645.5 983.5,646.5 987.5,642.5 991.5,641.5 995.5,646.5 999.5,647.5 1003.5,648.5 1007.5,647.5 1011.5,650.5 1015.5,653.5 1019.5,639.5 1023.5,643.5 1027.5,636.5 1031.5,637.5 1035.5,638.5 1039.5,641.5 1043.5,641.5 1047.5,642.5 1051.5,646.5 1055.5,644.5 1059.5,648.5 1063.5,639.5 1067.5,634.5 1071.5,634.5 1075.5,629.5 1079.5,632.5 1083.5,628.5 1087.5,627.5 1091.5,632.5 1095.5,638.5 1099.5,636.5 1103.5,636.5 1107.5,639.5 1111.5,637.5 1115.5,637.5 1119.5,635.5 1123.5,635.5 1127.5,634.5 1131.5,625.5 1135.5,620.5 1139.5,617.5 1143.5,614.5 1147.5,612.5 1151.5,613.5 1155.5,621.5 1159.5,626.5 1163.5,630.5 1167.5,631.5 1171.5,628.5 1175.5,633.5 1179.5,635.5 1183.5,636.5 1187.5,633.5 1191.5,632.5 1195.5,643.5 1199.5,643.5 1203.5,643.5 1207.5,634.5 1211.5,637.5 1215.5,634.5 1219.5,633.5 1223.5,633.5 1227.5,642.5 1231.5,645.5 1235.5,648.5 1239.5,642.5 1243.5,644.5 1247.5,645.5 1251.5,640.5 1255.5,641.5 1259.5,636.5 1263.5,625.5 1267.5,629.5" fill="none" stroke="#1e90ff" stroke-width="1" shape-rendering="crispEdges"/></g><g clip-path="url(#cmacd)"><g shape-rendering="crispEdges" fill="#c0c0c0"><rect x="3" y="719" width="1" height="2"/><rect x="7" y="719" width="1" height="2"/><rect x="11" y="720" width="1" height="1"/><rect x="15" y="721" width="1" height="2"/><rect x="19" y="721" width="1" height="4"/><rect x="23" y="721" width="1" height="6"/><rect x="27" y="721" width="1" height="7"/><rect x="31" y="721" width="1" height="6"/><rect x="35" y="721" width="1" height="4"/><rect x="39" y="721" width="1" height="1"/><rect x="43" y="720" width="1" height="1"/><rect x="47" y="717" width="1" height="4"/><rect x="51" y="716" width="1" height="5"/><rect x="55" y="716" width="1" height="5"/><rect x="59" y="718" width="1" height="3"/><rect x="63" y="720" width="1" height="1"/><rect x="67" y="721" width="1" height="1"/><rect x="71" y="721" width="1" height="1"/><rect x="75" y="721" width="1" height="3"/><rect x="79" y="721" width="1" height="3"/><rect x="83" y="721" width="1" height="2"/><rect x="87" y="721" width="1" height="2"/><rect x="91" y="720" width="1" height="1"/><rect x="95" y="718" width="1" height="3"/><rect x="99" y="716" width="1" height="5"/><rect x="103" y="713" width="1" height="8"/><rect x="107" y="712" width="1" height="9"/><rect x="111" y="711" width="1" height="10"/><rect x="115" y="709" width="1" height="12"/><rect x="119" y="708" width="1" height="13"/><rect x="123" y="711" width="1" height="10"/><rect x="127" y="716" width="1" height="5"/><rect x="131" y="719" width="1" height="2"/><rect x="135" y="721" width="1" height="1"/><rect x="139" y="721" width="1" height="2"/><rect x="143" y="721" width="1" height="3"/><rect x="147" y="721" width="1" height="4"/><rect x="151" y="721" width="1" height="6"/><rect x="155" y="721" width="1" height="8"/><rect x="159" y="721" width="1" height="9"/><rect x="163" y="721" width="1" height="11"/><rect x="167" y="721" width="1" height="12"/><rect x="171" y="721" width="1" height="13"/><rect x="175" y="721" width="1" height="16"/><rect x="179" y="721" width="1" height="17"/><rect x="183" y="721" width="1" height="18"/><rect x="187" y="721" width="1" height="18"/><rect x="191" y="721" width="1" height="17"/><rect x="195" y="721" width="1" height="17"/><rect x="199" y="721" width="1" height="17"/><rect x="203" y="721" width="1" height="17"/><rect x="207" y="721" width="1" height="16"/><rect x="211" y="721" width="1" height="18"/><rect x="215" y="721" width="1" height="20"/><rect x="219" y="721" width="1" height="24"/><rect x="223" y="721" width="1" height="27"/><rect x="227" y="721" width="1" height="29"/><rect x="231" y="721" width="1" height="30"/><rect x="235" y="721" width="1" height="29"/><rect x="239" y="721" width="1" height="28"/><rect x="243" y="721" width="1" height="28"/><rect x="247" y="721" width="1" height="26"/><rect x="251" y="721" width="1" height="26"/><rect x="255" y="721" width="1" height="23"/><rect x="259" y="721" width="1" height="21"/><rect x="263" y="721" width="1" height="20"/><rect x="267" y="721" width="1" height="19"/><rect x="271" y="721" width="1" height="19"/><rect x="275" y="721" width="1" height="21"/><rect x="279" y="721" width="1" height="22"/><rect x="283" y="721" width="1" height="21"/><rect x="287" y="721" width="1" height="21"/><rect x="291" y="721" width="1" height="19"/><rect x="295" y="721" width="1" height="18"/><rect x="299" y="721" width="1" height="16"/><rect x="303" y="721" width="1" height="15"/><rect x="307" y="721" width="1" height="13"/><rect x="311" y="721" width="1" height="12"/><rect x="315" y="721" width="1" height="11"/><rect x="319" y="721" width="1" height="8"/><rect x="323" y="721" width="1" height="5"/><rect x="327" y="721" width="1" height="6"/><rect x="331" y="721" width="1" height="8"/><rect x="335" y="721" width="1" height="11"/><rect x="339" y="721" width="1" height="11"/><rect x="343" y="721" width="1" height="9"/><rect x="347" y="721" width="1" height="7"/><rect x="351" y="721" width="1" height="3"/><rect x="355" y="721" width="1" height="1"/><rect x="359" y="718" width="1" height="3"/><rect x="363" y="716" width="1" height="5"/><rect x="367" y="714" width="1" height="7"/><rect x="371" y="713" width="1" height="8"/><rect x="375" y="712" width="1" height="9"/><rect x="379" y="709" width="1" height="12"/><rect x="383" y="707" width="1" height="14"/><rect x="387" y="706" width="1" height="15"/><rect x="391" y="705" width="1" height="16"/><rect x="395" y="704" width="1" height="17"/><rect x="399" y="703" width="1" height="18"/><rect x="403" y="705" width="1" height="16"/><rect x="407" y="707" width="1" height="14"/><rect x="411" y="709" width="1" height="12"/><rect x="415" y="711" width="1" height="10"/><rect x="419" y="712" width="1" height="9"/><rect x="423" y="716" width="1" height="5"/><rect x="427" y="721" width="1" height="1"/><rect x="431" y="721" width="1" height="4"/><rect x="435" y="721" width="1" height="11"/><rect x="439" y="721" width="1" height="17"/><rect x="443" y="721" width="1" height="23"/><rect x="447" y="721" width="1" height="29"/><rect x="451" y="721" width="1" height="39"/><rect x="455" y="721" width="1" height="47"/><rect x="459" y="721" width="1" height="56"/><rect x="463" y="721" width="1" height="61"/><rect x="467" y="721" width="1" height="61"/><rect x="471" y="721" width="1" height="54"/><rect x="475" y="721" width="1" height="48"/><rect x="479" y="721" width="1" height="41"/><rect x="483" y="721" width="1" height="40"/><rect x="487" y="721" width="1" height="30"/><rect x="491" y="721" width="1" height="18"/><rect x="495" y="721" width="1" height="4"/><rect x="499" y="712" width="1" height="9"/><rect x="503" y="701" width="1" height="20"/><rect x="507" y="696" width="1" height="25"/><rect x="511" y="692" width="1" height="29"/><rect x="515" y="692" width="1" height="29"/><rect x="519" y="698" width="1" height="23"/><rect x="523" y="707" width="1" height="14"/><rect x="527" y="715" width="1" height="6"/><rect x="531" y="718" width="1" height="3"/><rect x="535" y="720" width="1" height="1"/><rect x="539" y="719" width="1" height="2"/><rect x="543" y="715" width="1" height="6"/><rect x="547" y="711" width="1" height="10"/><rect x="551" y="708" width="1" height="13"/><rect x="555" y="706" width="1" height="15"/><rect x="559" y="707" width="1" height="14"/><rect x="563" y="708" width="1" height="13"/><rect x="567" y="711" width="1" height="10"/><rect x="571" y="714" width="1" height="7"/><rect x="575" y="716" width="1" height="5"/><rect x="579" y="717" width="1" height="4"/><rect x="583" y="721" width="1" height="1"/><rect x="587" y="721" width="1" height="1"/><rect x="591" y="721" width="1" height="1"/><rect x="595" y="721" width="1" height="1"/><rect x="599" y="721" width="1" height="1"/><rect x="603" y="721" width="1" height="1"/><rect x="607" y="720" width="1" height="1"/><rect x="611" y="719" width="1" height="2"/><rect x="615" y="716" width="1" height="5"/><rect x="619" y="714" width="1" height="7"/><rect x="623" y="712" width="1" height="9"/><rect x="627" y="710" width="1" height="11"/><rect x="631" y="709" width="1" height="12"/><rect x="635" y="709" width="1" height="12"/><rect x="639" y="712" width="1" height="9"/><rect x="643" y="718" width="1" height="3"/><rect x="647" y="721" width="1" height="1"/><rect x="651" y="721" width="1" height="2"/><rect x="655" y="721" width="1" height="1"/><rect x="659" y="718" width="1" height="3"/><rect x="663" y="716" width="1" height="5"/><rect x="667" y="717" width="1" height="4"/><rect x="671" y="717" width="1" height="4"/><rect x="675" y="716" width="1" height="5"/><rect x="679" y="718" width="1" height="3"/><rect x="683" y="718" width="1" height="3"/><rect x="687" y="717" width="1" height="4"/><rect x="691" y="716" width="1" height="5"/><rect x="695" y="716" width="1" height="5"/><rect x="699" y="717" width="1" height="4"/><rect x="703" y="716" width="1" height="5"/><rect x="707" y="720" width="1" height="1"/><rect x="711" y="720" width="1" height="1"/><rect x="715" y="719" width="1" height="2"/><rect x="719" y="718" width="1" height="3"/><rect x="723" y="718" width="1" height="3"/><rect x="727" y="720" width="1" height="1"/><rect x="731" y="721" width="1" height="1"/><rect x="735" y="721" width="1" height="2"/><rect x="739" y="721" width="1" height="6"/><rect x="743" y="721" width="1" height="8"/><rect x="747" y="721" width="1" height="10"/><rect x="751" y="721" width="1" height="11"/><rect x="755" y="721" width="1" height="12"/><rect x="759" y="721" width="1" height="15"/><rect x="763" y="721" width="1" height="15"/><rect x="767" y="721" width="1" height="14"/><rect x="771" y="721" width="1" height="16"/><rect x="775" y="721" width="1" height="21"/><rect x="779" y="721" width="1" height="27"/><rect x="783" y="721" width="1" height="34"/><rect x="787" y="721" width="1" height="33"/><rect x="791" y="721" width="1" height="30"/><rect x="795" y="721" width="1" height="30"/><rect x="799" y="721" width="1" height="30"/><rect x="803" y="721" width="1" height="28"/><rect x="807" y="721" width="1" height="27"/><rect x="811" y="721" width="1" height="25"/><rect x="815" y="721" width="1" height="23"/><rect x="819" y="721" width="1" height="24"/><rect x="823" y="721" width="1" height="26"/><rect x="827" y="721" width="1" height="25"/><rect x="831" y="721" width="1" height="24"/><rect x="835" y="721" width="1" height="23"/><rect x="839" y="721" width="1" height="22"/><rect x="843" y="721" width="1" height="20"/><rect x="847" y="721" width="1" height="19"/><rect x="851" y="721" width="1" height="20"/><rect x="855" y="721" width="1" height="19"/><rect x="859" y="721" width="1" height="19"/><rect x="863" y="721" width="1" height="19"/><rect x="867" y="721" width="1" height="20"/><rect x="871" y="721" width="1" height="21"/><rect x="875" y="721" width="1" height="23"/><rect x="879" y="721" width="1" height="23"/><rect x="883" y="721" width="1" height="23"/><rect x="887" y="721" width="1" height="22"/><rect x="891" y="721" width="1" height="21"/><rect x="895" y="721" width="1" height="22"/><rect x="899" y="721" width="1" height="19"/><rect x="903" y="721" width="1" height="17"/><rect x="907" y="721" width="1" height="17"/><rect x="911" y="721" width="1" height="18"/><rect x="915" y="721" width="1" height="17"/><rect x="919" y="721" width="1" height="19"/><rect x="923" y="721" width="1" height="23"/><rect x="927" y="721" width="1" height="27"/><rect x="931" y="721" width="1" height="32"/><rect x="935" y="721" width="1" height="35"/><rect x="939" y="721" width="1" height="38"/><rect x="943" y="721" width="1" height="41"/><rect x="947" y="721" width="1" height="44"/><rect x="951" y="721" width="1" height="48"/><rect x="955" y="721" width="1" height="50"/><rect x="959" y="721" width="1" height="50"/><rect x="963" y="721" width="1" height="47"/><rect x="967" y="721" width="1" height="45"/><rect x="971" y="721" width="1" height="49"/><rect x="975" y="721" width="1" height="48"/><rect x="979" y="721" width="1" height="46"/><rect x="983" y="721" width="1" height="44"/><rect x="987" y="721" width="1" height="41"/><rect x="991" y="721" width="1" height="37"/><rect x="995" y="721" width="1" height="37"/><rect x="999" y="721" width="1" height="36"/><rect x="1003" y="721" width="1" height="36"/><rect x="1007" y="721" width="1" height="35"/><rect x="1011" y="721" width="1" height="35"/><rect x="1015" y="721" width="1" height="37"/><rect x="1019" y="721" width="1" height="34"/><rect x="1023" y="721" width="1" height="32"/><rect x="1027" y="721" width="1" height="28"/><rect x="1031" y="721" width="1" height="25"/><rect x="1035" y="721" width="1" height="23"/><rect x="1039" y="721" width="1" height="23"/><rect x="1043" y="721" width="1" height="22"/><rect x="1047" y="721" width="1" height="21"/><rect x="1051" y="721" width="1" height="23"/><rect x="1055" y="721" width="1" height="23"/><rect x="1059" y="721" width="1" height="24"/><rect x="1063" y="721" width="1" height="23"/><rect x="1067" y="721" width="1" height="19"/><rect x="1071" y="721" width="1" height="17"/><rect x="1075" y="721" width="1" height="12"/><rect x="1079" y="721" width="1" height="10"/><rect x="1083" y="721" width="1" height="6"/><rect x="1087" y="721" width="1" height="3"/><rect x="1091" y="721" width="1" height="2"/><rect x="1095" y="721" width="1" height="4"/><rect x="1099" y="721" width="1" height="4"/><rect x="1103" y="721" width="1" height="5"/><rect x="1107" y="721" width="1" height="6"/><rect x="1111" y="721" width="1" height="6"/><rect x="1115" y="721" width="1" height="6"/><rect x="1119" y="721" width="1" height="6"/><rect x="1123" y="721" width="1" height="6"/><rect x="1127" y="721" width="1" height="5"/><rect x="1131" y="721" width="1" height="1"/><rect x="1135" y="718" width="1" height="3"/><rect x="1139" y="713" width="1" height="8"/><rect x="1143" y="708" width="1" height="13"/><rect x="1147" y="703" width="1" height="18"/><rect x="1151" y="699" width="1" height="22"/><rect x="1155" y="698" width="1" height="23"/><rect x="1159" y="699" width="1" height="22"/><rect x="1163" y="702" width="1" height="19"/><rect x="1167" y="704" width="1" height="17"/><rect x="1171" y="705" width="1" height="16"/><rect x="1175" y="707" width="1" height="14"/><rect x="1179" y="710" width="1" height="11"/><rect x="1183" y="713" width="1" height="8"/><rect x="1187" y="714" width="1" height="7"/><rect x="1191" y="715" width="1" height="6"/><rect x="1195" y="719" width="1" height="2"/><rect x="1199" y="721" width="1" height="1"/><rect x="1203" y="721" width="1" height="4"/><rect x="1207" y="721" width="1" height="4"/><rect x="1211" y="721" width="1" height="4"/><rect x="1215" y="721" width="1" height="4"/><rect x="1219" y="721" width="1" height="3"/><rect x="1223" y="721" width="1" height="3"/><rect x="1227" y="721" width="1" height="5"/><rect x="1231" y="721" width="1" height="8"/><rect x="1235" y="721" width="1" height="11"/><rect x="1239" y="721" width="1" height="12"/><rect x="1243" y="721" width="1" height="14"/><rect x="1247" y="721" width="1" height="15"/><rect x="1251" y="721" width="1" height="15"/><rect x="1255" y="721" width="1" height="15"/><rect x="1259" y="721" width="1" height="13"/><rect x="1263" y="721" width="1" height="8"/><rect x="1267" y="721" width="1" height="5"/></g><polyline points="3.5,723.5 7.5,722.5 11.5,722.5 15.5,722.5 19.5,722.5 23.5,722.5 27.5,723.5 31.5,723.5 35.5,723.5 39.5,724.5 43.5,724.5 47.5,723.5 51.5,723.5 55.5,722.5 59.5,721.5 63.5,720.5 67.5,719.5 71.5,719.5 75.5,719.5 79.5,720.5 83.5,720.5 87.5,721.5 91.5,721.5 95.5,721.5 99.5,721.5 103.5,720.5 107.5,719.5 111.5,717.5 115.5,716.5 119.5,714.5 123.5,713.5 127.5,712.5 131.5,712.5 135.5,713.5 139.5,714.5 143.5,715.5 147.5,717.5 151.5,719.5 155.5,721.5 159.5,723.5 163.5,725.5 167.5,727.5 171.5,728.5 175.5,730.5 179.5,731.5 183.5,733.5 187.5,734.5 191.5,735.5 195.5,736.5 199.5,737.5 203.5,737.5 207.5,738.5 211.5,738.5 215.5,738.5 219.5,739.5 223.5,740.5 227.5,741.5 231.5,743.5 235.5,744.5 239.5,745.5 243.5,746.5 247.5,747.5 251.5,748.5 255.5,748.5 259.5,747.5 263.5,746.5 267.5,745.5 271.5,744.5 275.5,743.5 279.5,742.5 283.5,742.5 287.5,741.5 291.5,741.5 295.5,740.5 299.5,740.5 303.5,740.5 307.5,739.5 311.5,738.5 315.5,737.5 319.5,735.5 323.5,733.5 327.5,732.5 331.5,731.5 335.5,730.5 339.5,730.5 343.5,729.5 347.5,729.5 351.5,728.5 355.5,727.5 359.5,726.5 363.5,725.5 367.5,723.5 371.5,721.5 375.5,719.5 379.5,717.5 383.5,715.5 387.5,712.5 391.5,711.5 395.5,709.5 399.5,708.5 403.5,707.5 407.5,706.5 411.5,706.5 415.5,706.5 419.5,706.5 423.5,708.5 427.5,709.5 431.5,712.5 435.5,715.5 439.5,718.5 443.5,723.5 447.5,727.5 451.5,733.5 455.5,739.5 459.5,745.5 463.5,752.5 467.5,759.5 471.5,763.5 475.5,767.5 479.5,769.5 483.5,770.5 487.5,769.5 491.5,766.5 495.5,760.5 499.5,752.5 503.5,743.5 507.5,735.5 511.5,726.5 515.5,718.5 519.5,711.5 523.5,706.5 527.5,704.5 531.5,703.5 535.5,704.5 539.5,706.5 543.5,708.5 547.5,710.5 551.5,712.5 555.5,713.5 559.5,713.5 563.5,712.5 567.5,711.5 571.5,710.5 575.5,710.5 579.5,710.5 583.5,711.5 587.5,713.5 591.5,715.5 595.5,716.5 599.5,718.5 603.5,719.5 607.5,720.5 611.5,720.5 615.5,720.5 619.5,719.5 623.5,718.5 627.5,717.5 631.5,715.5 635.5,714.5 639.5,713.5 643.5,713.5 647.5,713.5 651.5,714.5 655.5,715.5 659.5,715.5 663.5,716.5 667.5,717.5 671.5,718.5 675.5,718.5 679.5,718.5 683.5,718.5 687.5,717.5 691.5,716.5 695.5,716.5 699.5,716.5 703.5,716.5 707.5,717.5 711.5,717.5 715.5,717.5 719.5,717.5 723.5,717.5 727.5,718.5 731.5,718.5 735.5,719.5 739.5,720.5 743.5,721.5 747.5,722.5 751.5,724.5 755.5,726.5 759.5,728.5 763.5,729.5 767.5,731.5 771.5,732.5 775.5,734.5 779.5,736.5 783.5,739.5 787.5,741.5 791.5,743.5 795.5,745.5 799.5,746.5 803.5,748.5 807.5,749.5 811.5,750.5 815.5,749.5 819.5,748.5 823.5,747.5 827.5,747.5 831.5,746.5 835.5,745.5 839.5,745.5 843.5,744.5 847.5,743.5 851.5,743.5 855.5,742.5 859.5,742.5 863.5,741.5 867.5,741.5 871.5,740.5 875.5,741.5 879.5,741.5 883.5,741.5 887.5,742.5 891.5,742.5 895.5,742.5 899.5,742.5 903.5,742.5 907.5,741.5 911.5,741.5 915.5,740.5 919.5,740.5 923.5,740.5 927.5,740.5 931.5,742.5 935.5,743.5 939.5,746.5 943.5,748.5 947.5,751.5 951.5,755.5 955.5,758.5 959.5,761.5 963.5,763.5 967.5,765.5 971.5,766.5 975.5,767.5 979.5,768.5 983.5,768.5 987.5,767.5 991.5,766.5 995.5,764.5 999.5,763.5 1003.5,762.5 1007.5,760.5 1011.5,759.5 1015.5,758.5 1019.5,757.5 1023.5,756.5 1027.5,755.5 1031.5,754.5 1035.5,752.5 1039.5,751.5 1043.5,749.5 1047.5,748.5 1051.5,746.5 1055.5,745.5 1059.5,744.5 1063.5,744.5 1067.5,743.5 1071.5,742.5 1075.5,741.5 1079.5,740.5 1083.5,738.5 1087.5,736.5 1091.5,733.5 1095.5,731.5 1099.5,729.5 1103.5,727.5 1107.5,726.5 1111.5,726.5 1115.5,725.5 1119.5,725.5 1123.5,725.5 1127.5,726.5 1131.5,725.5 1135.5,725.5 1139.5,723.5 1143.5,721.5 1147.5,718.5 1151.5,715.5 1155.5,712.5 1159.5,709.5 1163.5,706.5 1167.5,704.5 1171.5,703.5 1175.5,702.5 1179.5,703.5 1183.5,704.5 1187.5,705.5 1191.5,707.5 1195.5,709.5 1199.5,712.5 1203.5,714.5 1207.5,716.5 1211.5,718.5 1215.5,720.5 1219.5,721.5 1223.5,722.5 1227.5,723.5 1231.5,724.5 1235.5,725.5 1239.5,726.5 1243.5,728.5 1247.5,729.5 1251.5,730.5 1255.5,731.5 1259.5,732.5 1263.5,733.5 1267.5,732.5" fill="none" stroke="#ff0000" stroke-width="1" stroke-dasharray="3,3" shape-rendering="crispEdges"/></g></svg>
<svg width="1637" height="832" style="position:absolute;left:0;top:0"><path d="M6,31 L13,31 L9.5,35 Z" fill="#000"/><path d="M1270.5,25 L1280.5,25 L1275.5,30 Z" fill="#c0c0c0"/></svg>
<div class="t" style="left:1601px;top:44px;font-size:9.5px;color:#000;">1.00265</div><div class="t" style="left:1601px;top:77px;font-size:9.5px;color:#000;">0.99620</div><div class="t" style="left:1601px;top:110px;font-size:9.5px;color:#000;">0.98960</div><div class="t" style="left:1601px;top:143px;font-size:9.5px;color:#000;">0.98300</div><div class="t" style="left:1601px;top:176px;font-size:9.5px;color:#000;">0.97640</div><div class="t" style="left:1601px;top:209px;font-size:9.5px;color:#000;">0.96990</div><div class="t" style="left:1601px;top:242px;font-size:9.5px;color:#000;">0.96335</div><div class="t" style="left:1601px;top:275px;font-size:9.5px;color:#000;">0.95675</div><div class="t" style="left:1601px;top:308px;font-size:9.5px;color:#000;">0.95015</div><div class="t" style="left:1601px;top:341px;font-size:9.5px;color:#000;">0.94355</div><div class="t" style="left:1601px;top:374px;font-size:9.5px;color:#000;">0.93710</div><div class="t" style="left:1601px;top:407px;font-size:9.5px;color:#000;">0.93050</div><div class="t" style="left:1601px;top:440px;font-size:9.5px;color:#000;">0.92390</div><div class="t" style="left:1601px;top:473px;font-size:9.5px;color:#000;">0.91730</div><div class="t" style="left:1601px;top:506px;font-size:9.5px;color:#000;">0.91085</div><div class="t" style="left:1601px;top:539px;font-size:9.5px;color:#000;">0.90425</div><div class="t" style="left:1601px;top:572px;font-size:9.5px;color:#000;">0.89765</div><div class="lb" style="top:270px;background:#ff0000;color:#fff">0.95756</div><div class="lb" style="top:338px;background:#ff0000;color:#fff">0.94406</div><div class="lb" style="top:408px;background:#ff0000;color:#fff">0.93016</div><div class="lb" style="top:474px;background:#00ff00;color:#fff">0.91706</div><div class="lb" style="top:487px;background:#000000;color:#fff">0.91461</div><div class="lb" style="top:559px;background:#0000ff;color:#fff">0.90018</div><div class="t" style="left:1599px;top:584px;font-size:9.5px;color:#000;">100</div><div class="t" style="left:1598px;top:608px;font-size:9.5px;color:#000;">70</div><div class="t" style="left:1598px;top:648px;font-size:9.5px;color:#000;">30</div><div class="t" style="left:1598px;top:672px;font-size:9.5px;color:#000;">0</div><div class="t" style="left:1599px;top:687px;font-size:9.5px;color:#000;">0.005818</div><div class="t" style="left:1599px;top:716px;font-size:9.5px;color:#000;">0.00</div><div class="t" style="left:1598px;top:775px;font-size:9.5px;color:#000;">-0.011514</div><div class="t" style="left:7px;top:586px;font-size:9.5px;color:#000;">RSI(14) 54.1692</div><div class="t" style="left:7px;top:690px;font-size:9.5px;color:#000;">MACD(12,26,9) -0.001056 -0.002182</div><div class="t" style="left:18px;top:27px;font-size:9.5px;color:#000;letter-spacing:0.2px;">USDCHF,Daily</div><div class="t" style="left:89.5px;top:27px;font-size:9.5px;color:#000;letter-spacing:-0.15px;">0.91686 0.91716 0.91431 0.91461</div><div class="t" style="left:2px;top:790px;font-size:9.5px;color:#000;">28 Oct 2019</div><div class="t" style="left:66px;top:790px;font-size:9.5px;color:#000;">15 Nov 2019</div><div class="t" style="left:130px;top:790px;font-size:9.5px;color:#000;">4 Dec 2019</div><div class="t" style="left:194px;top:790px;font-size:9.5px;color:#000;">23 Dec 2019</div><div class="t" style="left:258px;top:790px;font-size:9.5px;color:#000;">10 Jan 2020</div><div class="t" style="left:322px;top:790px;font-size:9.5px;color:#000;">29 Jan 2020</div><div class="t" style="left:386px;top:790px;font-size:9.5px;color:#000;">17 Feb 2020</div><div class="t" style="left:450px;top:790px;font-size:9.5px;color:#000;">6 Mar 2020</div><div class="t" style="left:514px;top:790px;font-size:9.5px;color:#000;">25 Mar 2020</div><div class="t" style="left:578px;top:790px;font-size:9.5px;color:#000;">13 Apr 2020</div><div class="t" style="left:642px;top:790px;font-size:9.5px;color:#000;">1 May 2020</div><div class="t" style="left:706px;top:790px;font-size:9.5px;color:#000;">20 May 2020</div><div class="t" style="left:770px;top:790px;font-size:9.5px;color:#000;">8 Jun 2020</div><div class="t" style="left:834px;top:790px;font-size:9.5px;color:#000;">26 Jun 2020</div><div class="t" style="left:898px;top:790px;font-size:9.5px;color:#000;">15 Jul 2020</div><div class="t" style="left:962px;top:790px;font-size:9.5px;color:#000;">3 Aug 2020</div><div class="t" style="left:1026px;top:790px;font-size:9.5px;color:#000;">21 Aug 2020</div><div class="t" style="left:1090px;top:790px;font-size:9.5px;color:#000;">9 Sep 2020</div><div class="t" style="left:1154px;top:790px;font-size:9.5px;color:#000;">28 Sep 2020</div><div class="t" style="left:1218px;top:790px;font-size:9.5px;color:#000;">16 Oct 2020</div>
<div id="tabs"></div>
<svg width="1637" height="24" style="position:absolute;left:0;top:808px" shape-rendering="crispEdges"><rect x="0" y="0" width="1637" height="1" fill="#e3e3e3"/><rect x="0" y="1" width="1637" height="1" fill="#ffffff"/><rect x="0" y="2" width="108" height="1" fill="#000"/><rect x="208" y="2" width="1429" height="1" fill="#000"/><rect x="108" y="2" width="100" height="19" fill="#fff"/><rect x="108" y="2" width="1" height="19" fill="#000"/><rect x="207" y="2" width="1" height="19" fill="#000"/><rect x="108" y="20" width="100" height="1" fill="#000"/><rect x="0" y="21" width="1637" height="1" fill="#ffffff"/><rect x="0" y="22" width="1637" height="2" fill="#f0f0f0"/><rect x="311" y="5" width="1" height="14" fill="#555"/><rect x="415" y="5" width="1" height="14" fill="#555"/><rect x="519" y="5" width="1" height="14" fill="#555"/><rect x="623" y="5" width="1" height="14" fill="#555"/><rect x="715" y="5" width="1" height="14" fill="#555"/><rect x="807" y="5" width="1" height="14" fill="#555"/><rect x="879" y="5" width="1" height="14" fill="#555"/><rect x="959" y="5" width="1" height="14" fill="#555"/><rect x="1039" y="5" width="1" height="14" fill="#555"/><rect x="1119" y="5" width="1" height="14" fill="#555"/><rect x="1195" y="5" width="1" height="14" fill="#555"/><rect x="1267" y="5" width="1" height="14" fill="#555"/><rect x="1351" y="5" width="1" height="14" fill="#555"/><rect x="1431" y="5" width="1" height="14" fill="#555"/><rect x="1532" y="5" width="1" height="14" fill="#555"/><rect x="1604" y="5" width="1" height="14" fill="#555"/><path d="M1611,11 L1614.5,7.5 L1614.5,14.5 Z" fill="#a0a0a0"/><path d="M1634,11 L1630,7 L1630,15 Z" fill="#000"/></svg><div class="tab" style="left:16px;color:#6a6a6a">EURUSD,Daily</div><div class="tab" style="left:118px;color:#000">USDCHF,Daily</div><div class="tab" style="left:219px;color:#6a6a6a">AUDUSD,Daily</div><div class="tab" style="left:323px;color:#6a6a6a">USDCAD,Daily</div><div class="tab" style="left:426px;color:#6a6a6a">USDCNH,Daily</div><div class="tab" style="left:532px;color:#6a6a6a">EURUSD,Daily</div><div class="tab" style="left:636px;color:#6a6a6a">GBPUSD,H4</div><div class="tab" style="left:727px;color:#6a6a6a">XAUUSD,H1</div><div class="tab" style="left:819px;color:#6a6a6a">HK50,H1</div><div class="tab" style="left:891px;color:#6a6a6a">UK100,H1</div><div class="tab" style="left:971px;color:#6a6a6a">UK100,H1</div><div class="tab" style="left:1051px;color:#6a6a6a">GER30,H1</div><div class="tab" style="left:1130px;color:#6a6a6a">FRA40,H1</div><div class="tab" style="left:1206.5px;color:#6a6a6a">USOil,H4</div><div class="tab" style="left:1278px;color:#6a6a6a">USDJPY,H1</div><div class="tab" style="left:1362px;color:#6a6a6a">DJ30,Daily</div><div class="tab" style="left:1441.5px;color:#6a6a6a">CHINA300,H1</div><div class="tab" style="left:1542.5px;color:#6a6a6a">USOil,H1</div>
</body></html>
